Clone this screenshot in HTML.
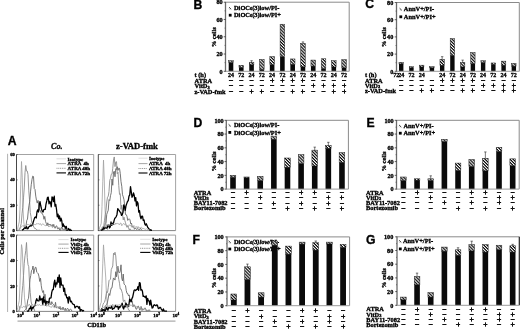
<!DOCTYPE html><html><head><meta charset="utf-8"><style>html,body{margin:0;padding:0;background:#fff;}svg{display:block;filter:grayscale(1) blur(0.3px);} text{stroke:#000;stroke-width:0.32px;paint-order:stroke;}</style></head><body>
<svg width="520" height="329" viewBox="0 0 520 329">
<defs><pattern id="hatch" width="2.2" height="2.2" patternUnits="userSpaceOnUse" patternTransform="rotate(45)"><rect x="0" y="0" width="2.2" height="2.2" fill="#fff"/><rect x="0" y="0" width="2.2" height="1.15" fill="#000"/></pattern><pattern id="hatch2" width="1.6" height="1.6" patternUnits="userSpaceOnUse" patternTransform="rotate(45)"><rect x="0" y="0" width="1.6" height="1.6" fill="#fff"/><rect x="0" y="0" width="1.6" height="0.8" fill="#000"/></pattern></defs>
<rect width="520" height="329" fill="#fff"/>
<text x="193.60" y="9.40" font-size="12.2" text-anchor="start" font-weight="bold" font-style="normal" font-family='"Liberation Sans", sans-serif' fill="#000" >B</text>
<line x1="225.50" y1="2.20" x2="349.20" y2="2.20" stroke="#8a8a8a" stroke-width="1.0" />
<line x1="349.20" y1="2.20" x2="349.20" y2="71.30" stroke="#8a8a8a" stroke-width="1.0" />
<line x1="229.00" y1="7.20" x2="231.20" y2="9.30" stroke="#333" stroke-width="1.0" />
<line x1="228.90" y1="8.70" x2="229.90" y2="9.70" stroke="#999" stroke-width="0.6" />
<text x="234.00" y="10.20" font-size="6.4" text-anchor="start" font-weight="bold" font-style="normal" font-family='"Liberation Serif", serif' fill="#000" >DiOC<tspan font-size="4.3">6</tspan>(3)low/PI-</text>
<rect x="228.80" y="13.80" width="2.80" height="2.80" fill="#000" />
<text x="234.00" y="17.30" font-size="6.4" text-anchor="start" font-weight="bold" font-style="normal" font-family='"Liberation Serif", serif' fill="#000" >DiOC<tspan font-size="4.3">6</tspan>(3)low/PI+</text>
<rect x="228.70" y="60.68" width="4.60" height="1.99" fill="url(#hatch)" stroke="#222" stroke-width="0.5"/>
<rect x="228.70" y="62.66" width="4.60" height="8.64" fill="#0a0a0a" />
<rect x="238.98" y="65.25" width="4.60" height="2.16" fill="url(#hatch)" stroke="#222" stroke-width="0.5"/>
<rect x="238.98" y="67.41" width="4.60" height="3.89" fill="#0a0a0a" />
<rect x="249.26" y="62.23" width="4.60" height="2.59" fill="url(#hatch)" stroke="#222" stroke-width="0.5"/>
<rect x="249.26" y="64.82" width="4.60" height="6.48" fill="#0a0a0a" />
<line x1="251.56" y1="62.23" x2="251.56" y2="60.68" stroke="#222" stroke-width="0.6" />
<line x1="250.36" y1="60.68" x2="252.76" y2="60.68" stroke="#222" stroke-width="0.6" />
<rect x="259.54" y="59.47" width="4.60" height="10.11" fill="url(#hatch)" stroke="#222" stroke-width="0.5"/>
<rect x="259.54" y="69.57" width="4.60" height="1.73" fill="#0a0a0a" />
<rect x="269.82" y="56.62" width="4.60" height="8.03" fill="url(#hatch)" stroke="#222" stroke-width="0.5"/>
<rect x="269.82" y="64.65" width="4.60" height="6.65" fill="#0a0a0a" />
<rect x="280.10" y="24.23" width="4.60" height="32.39" fill="url(#hatch)" stroke="#222" stroke-width="0.5"/>
<rect x="280.10" y="56.62" width="4.60" height="14.68" fill="#0a0a0a" />
<rect x="290.38" y="58.95" width="4.60" height="5.44" fill="url(#hatch)" stroke="#222" stroke-width="0.5"/>
<rect x="290.38" y="64.39" width="4.60" height="6.91" fill="#0a0a0a" />
<rect x="300.66" y="43.49" width="4.60" height="23.32" fill="url(#hatch)" stroke="#222" stroke-width="0.5"/>
<rect x="300.66" y="66.81" width="4.60" height="4.49" fill="#0a0a0a" />
<line x1="302.96" y1="43.49" x2="302.96" y2="41.93" stroke="#222" stroke-width="0.6" />
<line x1="301.76" y1="41.93" x2="304.16" y2="41.93" stroke="#222" stroke-width="0.6" />
<rect x="310.94" y="60.07" width="4.60" height="6.05" fill="url(#hatch)" stroke="#222" stroke-width="0.5"/>
<rect x="310.94" y="66.12" width="4.60" height="5.18" fill="#0a0a0a" />
<rect x="321.22" y="58.78" width="4.60" height="9.93" fill="url(#hatch)" stroke="#222" stroke-width="0.5"/>
<rect x="321.22" y="68.71" width="4.60" height="2.59" fill="#0a0a0a" />
<rect x="331.50" y="60.68" width="4.60" height="6.31" fill="url(#hatch)" stroke="#222" stroke-width="0.5"/>
<rect x="331.50" y="66.98" width="4.60" height="4.32" fill="#0a0a0a" />
<rect x="341.78" y="59.64" width="4.60" height="8.21" fill="url(#hatch)" stroke="#222" stroke-width="0.5"/>
<rect x="341.78" y="67.84" width="4.60" height="3.45" fill="#0a0a0a" />
<line x1="225.50" y1="1.90" x2="225.50" y2="71.80" stroke="#6a6a6a" stroke-width="1.3" />
<line x1="225.50" y1="71.30" x2="349.20" y2="71.30" stroke="#9a9a9a" stroke-width="1.0" />
<line x1="223.70" y1="71.30" x2="225.50" y2="71.30" stroke="#222" stroke-width="0.7" />
<text x="222.60" y="73.50" font-size="6.2" text-anchor="end" font-weight="bold" font-style="normal" font-family='"Liberation Serif", serif' fill="#000" >0</text>
<line x1="224.50" y1="62.66" x2="225.50" y2="62.66" stroke="#444" stroke-width="0.6" />
<line x1="223.70" y1="54.02" x2="225.50" y2="54.02" stroke="#222" stroke-width="0.7" />
<text x="222.60" y="56.23" font-size="6.2" text-anchor="end" font-weight="bold" font-style="normal" font-family='"Liberation Serif", serif' fill="#000" >20</text>
<line x1="224.50" y1="45.39" x2="225.50" y2="45.39" stroke="#444" stroke-width="0.6" />
<line x1="223.70" y1="36.75" x2="225.50" y2="36.75" stroke="#222" stroke-width="0.7" />
<text x="222.60" y="38.95" font-size="6.2" text-anchor="end" font-weight="bold" font-style="normal" font-family='"Liberation Serif", serif' fill="#000" >40</text>
<line x1="224.50" y1="28.11" x2="225.50" y2="28.11" stroke="#444" stroke-width="0.6" />
<line x1="223.70" y1="19.48" x2="225.50" y2="19.48" stroke="#222" stroke-width="0.7" />
<text x="222.60" y="21.68" font-size="6.2" text-anchor="end" font-weight="bold" font-style="normal" font-family='"Liberation Serif", serif' fill="#000" >60</text>
<line x1="224.50" y1="10.84" x2="225.50" y2="10.84" stroke="#444" stroke-width="0.6" />
<line x1="223.70" y1="2.20" x2="225.50" y2="2.20" stroke="#222" stroke-width="0.7" />
<text x="222.60" y="4.40" font-size="6.2" text-anchor="end" font-weight="bold" font-style="normal" font-family='"Liberation Serif", serif' fill="#000" >80</text>
<text x="0" y="0" font-size="6.5" text-anchor="middle" font-weight="bold" font-family='"Liberation Serif", serif' transform="translate(215.50,37.30) rotate(-90)">% cells</text>
<text x="194.50" y="76.50" font-size="6.4" text-anchor="start" font-weight="bold" font-style="normal" font-family='"Liberation Serif", serif' fill="#000" >t (h)</text>
<text x="231.00" y="76.50" font-size="6.0" text-anchor="middle" font-weight="bold" font-style="normal" font-family='"Liberation Serif", serif' fill="#000" >24</text>
<text x="241.28" y="76.50" font-size="6.0" text-anchor="middle" font-weight="bold" font-style="normal" font-family='"Liberation Serif", serif' fill="#000" >72</text>
<text x="251.56" y="76.50" font-size="6.0" text-anchor="middle" font-weight="bold" font-style="normal" font-family='"Liberation Serif", serif' fill="#000" >24</text>
<text x="261.84" y="76.50" font-size="6.0" text-anchor="middle" font-weight="bold" font-style="normal" font-family='"Liberation Serif", serif' fill="#000" >72</text>
<text x="272.12" y="76.50" font-size="6.0" text-anchor="middle" font-weight="bold" font-style="normal" font-family='"Liberation Serif", serif' fill="#000" >24</text>
<text x="282.40" y="76.50" font-size="6.0" text-anchor="middle" font-weight="bold" font-style="normal" font-family='"Liberation Serif", serif' fill="#000" >72</text>
<text x="292.68" y="76.50" font-size="6.0" text-anchor="middle" font-weight="bold" font-style="normal" font-family='"Liberation Serif", serif' fill="#000" >24</text>
<text x="302.96" y="76.50" font-size="6.0" text-anchor="middle" font-weight="bold" font-style="normal" font-family='"Liberation Serif", serif' fill="#000" >72</text>
<text x="313.24" y="76.50" font-size="6.0" text-anchor="middle" font-weight="bold" font-style="normal" font-family='"Liberation Serif", serif' fill="#000" >24</text>
<text x="323.52" y="76.50" font-size="6.0" text-anchor="middle" font-weight="bold" font-style="normal" font-family='"Liberation Serif", serif' fill="#000" >72</text>
<text x="333.80" y="76.50" font-size="6.0" text-anchor="middle" font-weight="bold" font-style="normal" font-family='"Liberation Serif", serif' fill="#000" >24</text>
<text x="344.08" y="76.50" font-size="6.0" text-anchor="middle" font-weight="bold" font-style="normal" font-family='"Liberation Serif", serif' fill="#000" >72</text>
<text x="194.50" y="83.00" font-size="6.4" text-anchor="start" font-weight="bold" font-style="normal" font-family='"Liberation Serif", serif' fill="#000" >ATRA</text>
<line x1="228.90" y1="80.50" x2="233.10" y2="80.50" stroke="#111" stroke-width="1.0" />
<line x1="239.18" y1="80.50" x2="243.38" y2="80.50" stroke="#111" stroke-width="1.0" />
<line x1="249.46" y1="80.50" x2="253.66" y2="80.50" stroke="#111" stroke-width="1.0" />
<line x1="259.74" y1="80.50" x2="263.94" y2="80.50" stroke="#111" stroke-width="1.0" />
<line x1="270.02" y1="80.50" x2="274.22" y2="80.50" stroke="#111" stroke-width="1.0" />
<line x1="272.50" y1="78.30" x2="272.50" y2="82.70" stroke="#111" stroke-width="1.0" />
<line x1="280.30" y1="80.50" x2="284.50" y2="80.50" stroke="#111" stroke-width="1.0" />
<line x1="282.50" y1="78.30" x2="282.50" y2="82.70" stroke="#111" stroke-width="1.0" />
<line x1="290.58" y1="80.50" x2="294.78" y2="80.50" stroke="#111" stroke-width="1.0" />
<line x1="292.50" y1="78.30" x2="292.50" y2="82.70" stroke="#111" stroke-width="1.0" />
<line x1="300.86" y1="80.50" x2="305.06" y2="80.50" stroke="#111" stroke-width="1.0" />
<line x1="302.50" y1="78.30" x2="302.50" y2="82.70" stroke="#111" stroke-width="1.0" />
<line x1="311.14" y1="80.50" x2="315.34" y2="80.50" stroke="#111" stroke-width="1.0" />
<line x1="321.42" y1="80.50" x2="325.62" y2="80.50" stroke="#111" stroke-width="1.0" />
<line x1="331.70" y1="80.50" x2="335.90" y2="80.50" stroke="#111" stroke-width="1.0" />
<line x1="341.98" y1="80.50" x2="346.18" y2="80.50" stroke="#111" stroke-width="1.0" />
<text x="194.50" y="88.10" font-size="6.4" text-anchor="start" font-weight="bold" font-style="normal" font-family='"Liberation Serif", serif' fill="#000" >VitD<tspan font-size="4.4" dy="0.5">3</tspan></text>
<line x1="228.90" y1="85.50" x2="233.10" y2="85.50" stroke="#111" stroke-width="1.0" />
<line x1="239.18" y1="85.50" x2="243.38" y2="85.50" stroke="#111" stroke-width="1.0" />
<line x1="249.46" y1="85.50" x2="253.66" y2="85.50" stroke="#111" stroke-width="1.0" />
<line x1="259.74" y1="85.50" x2="263.94" y2="85.50" stroke="#111" stroke-width="1.0" />
<line x1="270.02" y1="85.50" x2="274.22" y2="85.50" stroke="#111" stroke-width="1.0" />
<line x1="280.30" y1="85.50" x2="284.50" y2="85.50" stroke="#111" stroke-width="1.0" />
<line x1="290.58" y1="85.50" x2="294.78" y2="85.50" stroke="#111" stroke-width="1.0" />
<line x1="300.86" y1="85.50" x2="305.06" y2="85.50" stroke="#111" stroke-width="1.0" />
<line x1="311.14" y1="85.50" x2="315.34" y2="85.50" stroke="#111" stroke-width="1.0" />
<line x1="313.50" y1="83.30" x2="313.50" y2="87.70" stroke="#111" stroke-width="1.0" />
<line x1="321.42" y1="85.50" x2="325.62" y2="85.50" stroke="#111" stroke-width="1.0" />
<line x1="323.50" y1="83.30" x2="323.50" y2="87.70" stroke="#111" stroke-width="1.0" />
<line x1="331.70" y1="85.50" x2="335.90" y2="85.50" stroke="#111" stroke-width="1.0" />
<line x1="333.50" y1="83.30" x2="333.50" y2="87.70" stroke="#111" stroke-width="1.0" />
<line x1="341.98" y1="85.50" x2="346.18" y2="85.50" stroke="#111" stroke-width="1.0" />
<line x1="344.50" y1="83.30" x2="344.50" y2="87.70" stroke="#111" stroke-width="1.0" />
<text x="194.50" y="93.60" font-size="6.4" text-anchor="start" font-weight="bold" font-style="normal" font-family='"Liberation Serif", serif' fill="#000" >z-VAD-fmk</text>
<line x1="228.90" y1="91.50" x2="233.10" y2="91.50" stroke="#111" stroke-width="1.0" />
<line x1="239.18" y1="91.50" x2="243.38" y2="91.50" stroke="#111" stroke-width="1.0" />
<line x1="249.46" y1="91.50" x2="253.66" y2="91.50" stroke="#111" stroke-width="1.0" />
<line x1="251.50" y1="89.30" x2="251.50" y2="93.70" stroke="#111" stroke-width="1.0" />
<line x1="259.74" y1="91.50" x2="263.94" y2="91.50" stroke="#111" stroke-width="1.0" />
<line x1="261.50" y1="89.30" x2="261.50" y2="93.70" stroke="#111" stroke-width="1.0" />
<line x1="270.02" y1="91.50" x2="274.22" y2="91.50" stroke="#111" stroke-width="1.0" />
<line x1="280.30" y1="91.50" x2="284.50" y2="91.50" stroke="#111" stroke-width="1.0" />
<line x1="290.58" y1="91.50" x2="294.78" y2="91.50" stroke="#111" stroke-width="1.0" />
<line x1="292.50" y1="89.30" x2="292.50" y2="93.70" stroke="#111" stroke-width="1.0" />
<line x1="300.86" y1="91.50" x2="305.06" y2="91.50" stroke="#111" stroke-width="1.0" />
<line x1="302.50" y1="89.30" x2="302.50" y2="93.70" stroke="#111" stroke-width="1.0" />
<line x1="311.14" y1="91.50" x2="315.34" y2="91.50" stroke="#111" stroke-width="1.0" />
<line x1="321.42" y1="91.50" x2="325.62" y2="91.50" stroke="#111" stroke-width="1.0" />
<line x1="331.70" y1="91.50" x2="335.90" y2="91.50" stroke="#111" stroke-width="1.0" />
<line x1="333.50" y1="89.30" x2="333.50" y2="93.70" stroke="#111" stroke-width="1.0" />
<line x1="341.98" y1="91.50" x2="346.18" y2="91.50" stroke="#111" stroke-width="1.0" />
<line x1="344.50" y1="89.30" x2="344.50" y2="93.70" stroke="#111" stroke-width="1.0" />
<text x="365.20" y="8.30" font-size="12.2" text-anchor="start" font-weight="bold" font-style="normal" font-family='"Liberation Sans", sans-serif' fill="#000" >C</text>
<line x1="396.50" y1="2.50" x2="519.30" y2="2.50" stroke="#8a8a8a" stroke-width="1.0" />
<line x1="519.30" y1="2.50" x2="519.30" y2="71.30" stroke="#8a8a8a" stroke-width="1.0" />
<line x1="399.60" y1="8.20" x2="401.80" y2="10.30" stroke="#333" stroke-width="1.0" />
<line x1="399.50" y1="9.70" x2="400.50" y2="10.70" stroke="#999" stroke-width="0.6" />
<text x="403.80" y="11.20" font-size="6.4" text-anchor="start" font-weight="bold" font-style="normal" font-family='"Liberation Serif", serif' fill="#000" >AnnV+/PI-</text>
<rect x="399.40" y="15.40" width="2.80" height="2.80" fill="#000" />
<text x="403.80" y="18.90" font-size="6.4" text-anchor="start" font-weight="bold" font-style="normal" font-family='"Liberation Serif", serif' fill="#000" >AnnV+/PI+</text>
<rect x="399.00" y="62.27" width="4.40" height="1.72" fill="url(#hatch)" stroke="#222" stroke-width="0.5"/>
<rect x="399.00" y="63.99" width="4.40" height="7.31" fill="#0a0a0a" />
<rect x="409.24" y="66.74" width="4.40" height="1.12" fill="url(#hatch)" stroke="#222" stroke-width="0.5"/>
<rect x="409.24" y="67.86" width="4.40" height="3.44" fill="#0a0a0a" />
<rect x="419.48" y="65.19" width="4.40" height="1.81" fill="url(#hatch)" stroke="#222" stroke-width="0.5"/>
<rect x="419.48" y="67.00" width="4.40" height="4.30" fill="#0a0a0a" />
<rect x="429.72" y="66.74" width="4.40" height="1.12" fill="url(#hatch)" stroke="#222" stroke-width="0.5"/>
<rect x="429.72" y="67.86" width="4.40" height="3.44" fill="#0a0a0a" />
<rect x="439.96" y="59.26" width="4.40" height="6.02" fill="url(#hatch)" stroke="#222" stroke-width="0.5"/>
<rect x="439.96" y="65.28" width="4.40" height="6.02" fill="#0a0a0a" />
<line x1="442.16" y1="59.26" x2="442.16" y2="56.68" stroke="#222" stroke-width="0.6" />
<line x1="440.96" y1="56.68" x2="443.36" y2="56.68" stroke="#222" stroke-width="0.6" />
<rect x="450.20" y="38.62" width="4.40" height="16.77" fill="url(#hatch)" stroke="#222" stroke-width="0.5"/>
<rect x="450.20" y="55.39" width="4.40" height="15.91" fill="#0a0a0a" />
<rect x="460.44" y="62.27" width="4.40" height="4.73" fill="url(#hatch)" stroke="#222" stroke-width="0.5"/>
<rect x="460.44" y="67.00" width="4.40" height="4.30" fill="#0a0a0a" />
<line x1="462.64" y1="62.27" x2="462.64" y2="60.12" stroke="#222" stroke-width="0.6" />
<line x1="461.44" y1="60.12" x2="463.84" y2="60.12" stroke="#222" stroke-width="0.6" />
<rect x="470.68" y="52.55" width="4.40" height="11.01" fill="url(#hatch)" stroke="#222" stroke-width="0.5"/>
<rect x="470.68" y="63.56" width="4.40" height="7.74" fill="#0a0a0a" />
<rect x="480.92" y="60.72" width="4.40" height="1.98" fill="url(#hatch)" stroke="#222" stroke-width="0.5"/>
<rect x="480.92" y="62.70" width="4.40" height="8.60" fill="#0a0a0a" />
<rect x="491.16" y="62.96" width="4.40" height="1.46" fill="url(#hatch)" stroke="#222" stroke-width="0.5"/>
<rect x="491.16" y="64.42" width="4.40" height="6.88" fill="#0a0a0a" />
<rect x="501.40" y="61.15" width="4.40" height="4.13" fill="url(#hatch)" stroke="#222" stroke-width="0.5"/>
<rect x="501.40" y="65.28" width="4.40" height="6.02" fill="#0a0a0a" />
<rect x="511.64" y="63.39" width="4.40" height="2.75" fill="url(#hatch)" stroke="#222" stroke-width="0.5"/>
<rect x="511.64" y="66.14" width="4.40" height="5.16" fill="#0a0a0a" />
<line x1="396.50" y1="2.20" x2="396.50" y2="71.80" stroke="#6a6a6a" stroke-width="1.3" />
<line x1="396.50" y1="71.30" x2="519.30" y2="71.30" stroke="#9a9a9a" stroke-width="1.0" />
<line x1="394.70" y1="71.30" x2="396.50" y2="71.30" stroke="#222" stroke-width="0.7" />
<text x="393.30" y="73.50" font-size="6.2" text-anchor="end" font-weight="bold" font-style="normal" font-family='"Liberation Serif", serif' fill="#000" >0</text>
<line x1="395.50" y1="62.70" x2="396.50" y2="62.70" stroke="#444" stroke-width="0.6" />
<line x1="394.70" y1="54.10" x2="396.50" y2="54.10" stroke="#222" stroke-width="0.7" />
<text x="393.30" y="56.30" font-size="6.2" text-anchor="end" font-weight="bold" font-style="normal" font-family='"Liberation Serif", serif' fill="#000" >20</text>
<line x1="395.50" y1="45.50" x2="396.50" y2="45.50" stroke="#444" stroke-width="0.6" />
<line x1="394.70" y1="36.90" x2="396.50" y2="36.90" stroke="#222" stroke-width="0.7" />
<text x="393.30" y="39.10" font-size="6.2" text-anchor="end" font-weight="bold" font-style="normal" font-family='"Liberation Serif", serif' fill="#000" >40</text>
<line x1="395.50" y1="28.30" x2="396.50" y2="28.30" stroke="#444" stroke-width="0.6" />
<line x1="394.70" y1="19.70" x2="396.50" y2="19.70" stroke="#222" stroke-width="0.7" />
<text x="393.30" y="21.90" font-size="6.2" text-anchor="end" font-weight="bold" font-style="normal" font-family='"Liberation Serif", serif' fill="#000" >60</text>
<line x1="395.50" y1="11.10" x2="396.50" y2="11.10" stroke="#444" stroke-width="0.6" />
<line x1="394.70" y1="2.50" x2="396.50" y2="2.50" stroke="#222" stroke-width="0.7" />
<text x="393.30" y="4.70" font-size="6.2" text-anchor="end" font-weight="bold" font-style="normal" font-family='"Liberation Serif", serif' fill="#000" >80</text>
<text x="0" y="0" font-size="6.5" text-anchor="middle" font-weight="bold" font-family='"Liberation Serif", serif' transform="translate(386.00,37.30) rotate(-90)">% cells</text>
<text x="365.00" y="77.20" font-size="6.4" text-anchor="start" font-weight="bold" font-style="normal" font-family='"Liberation Serif", serif' fill="#000" >t (h)</text>
<text x="401.20" y="77.20" font-size="6.0" text-anchor="middle" font-weight="bold" font-style="normal" font-family='"Liberation Serif", serif' fill="#000" >24</text>
<text x="396.20" y="77.20" font-size="6.0" text-anchor="middle" font-weight="bold" font-style="normal" font-family='"Liberation Serif", serif' fill="#000" >72</text>
<text x="411.44" y="77.20" font-size="6.0" text-anchor="middle" font-weight="bold" font-style="normal" font-family='"Liberation Serif", serif' fill="#000" >72</text>
<text x="421.68" y="77.20" font-size="6.0" text-anchor="middle" font-weight="bold" font-style="normal" font-family='"Liberation Serif", serif' fill="#000" >24</text>
<text x="442.16" y="77.20" font-size="6.0" text-anchor="middle" font-weight="bold" font-style="normal" font-family='"Liberation Serif", serif' fill="#000" >24</text>
<text x="452.40" y="77.20" font-size="6.0" text-anchor="middle" font-weight="bold" font-style="normal" font-family='"Liberation Serif", serif' fill="#000" >72</text>
<text x="462.64" y="77.20" font-size="6.0" text-anchor="middle" font-weight="bold" font-style="normal" font-family='"Liberation Serif", serif' fill="#000" >24</text>
<text x="472.88" y="77.20" font-size="6.0" text-anchor="middle" font-weight="bold" font-style="normal" font-family='"Liberation Serif", serif' fill="#000" >72</text>
<text x="483.12" y="77.20" font-size="6.0" text-anchor="middle" font-weight="bold" font-style="normal" font-family='"Liberation Serif", serif' fill="#000" >24</text>
<text x="493.36" y="77.20" font-size="6.0" text-anchor="middle" font-weight="bold" font-style="normal" font-family='"Liberation Serif", serif' fill="#000" >72</text>
<text x="503.60" y="77.20" font-size="6.0" text-anchor="middle" font-weight="bold" font-style="normal" font-family='"Liberation Serif", serif' fill="#000" >24</text>
<text x="513.84" y="77.20" font-size="6.0" text-anchor="middle" font-weight="bold" font-style="normal" font-family='"Liberation Serif", serif' fill="#000" >72</text>
<text x="365.00" y="82.60" font-size="6.4" text-anchor="start" font-weight="bold" font-style="normal" font-family='"Liberation Serif", serif' fill="#000" >ATRA</text>
<line x1="399.10" y1="80.50" x2="403.30" y2="80.50" stroke="#111" stroke-width="1.0" />
<line x1="409.34" y1="80.50" x2="413.54" y2="80.50" stroke="#111" stroke-width="1.0" />
<line x1="419.58" y1="80.50" x2="423.78" y2="80.50" stroke="#111" stroke-width="1.0" />
<line x1="429.82" y1="80.50" x2="434.02" y2="80.50" stroke="#111" stroke-width="1.0" />
<line x1="440.06" y1="80.50" x2="444.26" y2="80.50" stroke="#111" stroke-width="1.0" />
<line x1="442.50" y1="78.30" x2="442.50" y2="82.70" stroke="#111" stroke-width="1.0" />
<line x1="450.30" y1="80.50" x2="454.50" y2="80.50" stroke="#111" stroke-width="1.0" />
<line x1="452.50" y1="78.30" x2="452.50" y2="82.70" stroke="#111" stroke-width="1.0" />
<line x1="460.54" y1="80.50" x2="464.74" y2="80.50" stroke="#111" stroke-width="1.0" />
<line x1="462.50" y1="78.30" x2="462.50" y2="82.70" stroke="#111" stroke-width="1.0" />
<line x1="470.78" y1="80.50" x2="474.98" y2="80.50" stroke="#111" stroke-width="1.0" />
<line x1="472.50" y1="78.30" x2="472.50" y2="82.70" stroke="#111" stroke-width="1.0" />
<line x1="481.02" y1="80.50" x2="485.22" y2="80.50" stroke="#111" stroke-width="1.0" />
<line x1="491.26" y1="80.50" x2="495.46" y2="80.50" stroke="#111" stroke-width="1.0" />
<line x1="501.50" y1="80.50" x2="505.70" y2="80.50" stroke="#111" stroke-width="1.0" />
<line x1="511.74" y1="80.50" x2="515.94" y2="80.50" stroke="#111" stroke-width="1.0" />
<text x="365.00" y="87.80" font-size="6.4" text-anchor="start" font-weight="bold" font-style="normal" font-family='"Liberation Serif", serif' fill="#000" >VitD<tspan font-size="4.4" dy="0.5">3</tspan></text>
<line x1="399.10" y1="85.50" x2="403.30" y2="85.50" stroke="#111" stroke-width="1.0" />
<line x1="409.34" y1="85.50" x2="413.54" y2="85.50" stroke="#111" stroke-width="1.0" />
<line x1="419.58" y1="85.50" x2="423.78" y2="85.50" stroke="#111" stroke-width="1.0" />
<line x1="429.82" y1="85.50" x2="434.02" y2="85.50" stroke="#111" stroke-width="1.0" />
<line x1="440.06" y1="85.50" x2="444.26" y2="85.50" stroke="#111" stroke-width="1.0" />
<line x1="450.30" y1="85.50" x2="454.50" y2="85.50" stroke="#111" stroke-width="1.0" />
<line x1="460.54" y1="85.50" x2="464.74" y2="85.50" stroke="#111" stroke-width="1.0" />
<line x1="470.78" y1="85.50" x2="474.98" y2="85.50" stroke="#111" stroke-width="1.0" />
<line x1="481.02" y1="85.50" x2="485.22" y2="85.50" stroke="#111" stroke-width="1.0" />
<line x1="483.50" y1="83.30" x2="483.50" y2="87.70" stroke="#111" stroke-width="1.0" />
<line x1="491.26" y1="85.50" x2="495.46" y2="85.50" stroke="#111" stroke-width="1.0" />
<line x1="493.50" y1="83.30" x2="493.50" y2="87.70" stroke="#111" stroke-width="1.0" />
<line x1="501.50" y1="85.50" x2="505.70" y2="85.50" stroke="#111" stroke-width="1.0" />
<line x1="503.50" y1="83.30" x2="503.50" y2="87.70" stroke="#111" stroke-width="1.0" />
<line x1="511.74" y1="85.50" x2="515.94" y2="85.50" stroke="#111" stroke-width="1.0" />
<line x1="513.50" y1="83.30" x2="513.50" y2="87.70" stroke="#111" stroke-width="1.0" />
<text x="365.00" y="92.80" font-size="6.4" text-anchor="start" font-weight="bold" font-style="normal" font-family='"Liberation Serif", serif' fill="#000" >z-VAD-fmk</text>
<line x1="399.10" y1="90.50" x2="403.30" y2="90.50" stroke="#111" stroke-width="1.0" />
<line x1="409.34" y1="90.50" x2="413.54" y2="90.50" stroke="#111" stroke-width="1.0" />
<line x1="419.58" y1="90.50" x2="423.78" y2="90.50" stroke="#111" stroke-width="1.0" />
<line x1="421.50" y1="88.30" x2="421.50" y2="92.70" stroke="#111" stroke-width="1.0" />
<line x1="429.82" y1="90.50" x2="434.02" y2="90.50" stroke="#111" stroke-width="1.0" />
<line x1="431.50" y1="88.30" x2="431.50" y2="92.70" stroke="#111" stroke-width="1.0" />
<line x1="440.06" y1="90.50" x2="444.26" y2="90.50" stroke="#111" stroke-width="1.0" />
<line x1="450.30" y1="90.50" x2="454.50" y2="90.50" stroke="#111" stroke-width="1.0" />
<line x1="460.54" y1="90.50" x2="464.74" y2="90.50" stroke="#111" stroke-width="1.0" />
<line x1="462.50" y1="88.30" x2="462.50" y2="92.70" stroke="#111" stroke-width="1.0" />
<line x1="470.78" y1="90.50" x2="474.98" y2="90.50" stroke="#111" stroke-width="1.0" />
<line x1="472.50" y1="88.30" x2="472.50" y2="92.70" stroke="#111" stroke-width="1.0" />
<line x1="481.02" y1="90.50" x2="485.22" y2="90.50" stroke="#111" stroke-width="1.0" />
<line x1="491.26" y1="90.50" x2="495.46" y2="90.50" stroke="#111" stroke-width="1.0" />
<line x1="501.50" y1="90.50" x2="505.70" y2="90.50" stroke="#111" stroke-width="1.0" />
<line x1="503.50" y1="88.30" x2="503.50" y2="92.70" stroke="#111" stroke-width="1.0" />
<line x1="511.74" y1="90.50" x2="515.94" y2="90.50" stroke="#111" stroke-width="1.0" />
<line x1="513.50" y1="88.30" x2="513.50" y2="92.70" stroke="#111" stroke-width="1.0" />
<text x="193.40" y="127.40" font-size="12.2" text-anchor="start" font-weight="bold" font-style="normal" font-family='"Liberation Sans", sans-serif' fill="#000" >D</text>
<line x1="226.30" y1="120.30" x2="348.40" y2="120.30" stroke="#8a8a8a" stroke-width="1.0" />
<line x1="348.40" y1="120.30" x2="348.40" y2="189.10" stroke="#8a8a8a" stroke-width="1.0" />
<line x1="228.60" y1="124.30" x2="230.80" y2="126.40" stroke="#333" stroke-width="1.0" />
<line x1="228.50" y1="125.80" x2="229.50" y2="126.80" stroke="#999" stroke-width="0.6" />
<text x="233.90" y="127.30" font-size="6.4" text-anchor="start" font-weight="bold" font-style="normal" font-family='"Liberation Serif", serif' fill="#000" >DiOC<tspan font-size="4.3">6</tspan>(3)low/PI-</text>
<rect x="228.40" y="131.00" width="2.80" height="2.80" fill="#000" />
<text x="233.90" y="134.50" font-size="6.4" text-anchor="start" font-weight="bold" font-style="normal" font-family='"Liberation Serif", serif' fill="#000" >DiOC<tspan font-size="4.3">6</tspan>(3)low/PI+</text>
<rect x="230.20" y="175.34" width="5.60" height="2.06" fill="url(#hatch)" stroke="#222" stroke-width="0.5"/>
<rect x="230.20" y="177.40" width="5.60" height="11.70" fill="#0a0a0a" />
<rect x="243.82" y="176.99" width="5.60" height="0.69" fill="url(#hatch)" stroke="#222" stroke-width="0.5"/>
<rect x="243.82" y="177.68" width="5.60" height="11.42" fill="#0a0a0a" />
<rect x="257.44" y="176.30" width="5.60" height="4.27" fill="url(#hatch)" stroke="#222" stroke-width="0.5"/>
<rect x="257.44" y="180.57" width="5.60" height="8.53" fill="#0a0a0a" />
<rect x="271.06" y="136.40" width="5.60" height="2.89" fill="url(#hatch)" stroke="#222" stroke-width="0.5"/>
<rect x="271.06" y="139.29" width="5.60" height="49.81" fill="#0a0a0a" />
<rect x="284.68" y="158.00" width="5.60" height="9.29" fill="url(#hatch)" stroke="#222" stroke-width="0.5"/>
<rect x="284.68" y="167.29" width="5.60" height="21.81" fill="#0a0a0a" />
<rect x="298.30" y="154.70" width="5.60" height="8.94" fill="url(#hatch)" stroke="#222" stroke-width="0.5"/>
<rect x="298.30" y="163.64" width="5.60" height="25.46" fill="#0a0a0a" />
<rect x="311.92" y="150.16" width="5.60" height="15.82" fill="url(#hatch)" stroke="#222" stroke-width="0.5"/>
<rect x="311.92" y="165.98" width="5.60" height="23.12" fill="#0a0a0a" />
<line x1="314.72" y1="150.16" x2="314.72" y2="147.13" stroke="#222" stroke-width="0.6" />
<line x1="313.52" y1="147.13" x2="315.92" y2="147.13" stroke="#222" stroke-width="0.6" />
<rect x="325.54" y="145.41" width="5.60" height="2.89" fill="url(#hatch)" stroke="#222" stroke-width="0.5"/>
<rect x="325.54" y="148.30" width="5.60" height="40.80" fill="#0a0a0a" />
<line x1="328.34" y1="145.41" x2="328.34" y2="142.32" stroke="#222" stroke-width="0.6" />
<line x1="327.14" y1="142.32" x2="329.54" y2="142.32" stroke="#222" stroke-width="0.6" />
<rect x="339.16" y="152.64" width="5.60" height="9.77" fill="url(#hatch)" stroke="#222" stroke-width="0.5"/>
<rect x="339.16" y="162.41" width="5.60" height="26.69" fill="#0a0a0a" />
<line x1="226.30" y1="120.00" x2="226.30" y2="189.60" stroke="#6a6a6a" stroke-width="1.3" />
<line x1="226.30" y1="189.10" x2="348.40" y2="189.10" stroke="#9a9a9a" stroke-width="1.0" />
<line x1="224.50" y1="189.10" x2="226.30" y2="189.10" stroke="#222" stroke-width="0.7" />
<text x="223.70" y="191.30" font-size="6.2" text-anchor="end" font-weight="bold" font-style="normal" font-family='"Liberation Serif", serif' fill="#000" >0</text>
<line x1="225.30" y1="182.22" x2="226.30" y2="182.22" stroke="#444" stroke-width="0.6" />
<line x1="224.50" y1="175.34" x2="226.30" y2="175.34" stroke="#222" stroke-width="0.7" />
<text x="223.70" y="177.54" font-size="6.2" text-anchor="end" font-weight="bold" font-style="normal" font-family='"Liberation Serif", serif' fill="#000" >20</text>
<line x1="225.30" y1="168.46" x2="226.30" y2="168.46" stroke="#444" stroke-width="0.6" />
<line x1="224.50" y1="161.58" x2="226.30" y2="161.58" stroke="#222" stroke-width="0.7" />
<text x="223.70" y="163.78" font-size="6.2" text-anchor="end" font-weight="bold" font-style="normal" font-family='"Liberation Serif", serif' fill="#000" >40</text>
<line x1="225.30" y1="154.70" x2="226.30" y2="154.70" stroke="#444" stroke-width="0.6" />
<line x1="224.50" y1="147.82" x2="226.30" y2="147.82" stroke="#222" stroke-width="0.7" />
<text x="223.70" y="150.02" font-size="6.2" text-anchor="end" font-weight="bold" font-style="normal" font-family='"Liberation Serif", serif' fill="#000" >60</text>
<line x1="225.30" y1="140.94" x2="226.30" y2="140.94" stroke="#444" stroke-width="0.6" />
<line x1="224.50" y1="134.06" x2="226.30" y2="134.06" stroke="#222" stroke-width="0.7" />
<text x="223.70" y="136.26" font-size="6.2" text-anchor="end" font-weight="bold" font-style="normal" font-family='"Liberation Serif", serif' fill="#000" >80</text>
<line x1="225.30" y1="127.18" x2="226.30" y2="127.18" stroke="#444" stroke-width="0.6" />
<line x1="224.50" y1="120.30" x2="226.30" y2="120.30" stroke="#222" stroke-width="0.7" />
<text x="223.70" y="122.50" font-size="6.2" text-anchor="end" font-weight="bold" font-style="normal" font-family='"Liberation Serif", serif' fill="#000" >100</text>
<text x="0" y="0" font-size="6.5" text-anchor="middle" font-weight="bold" font-family='"Liberation Serif", serif' transform="translate(215.60,161.50) rotate(-90)">% cells</text>
<text x="193.70" y="194.60" font-size="6.4" text-anchor="start" font-weight="bold" font-style="normal" font-family='"Liberation Serif", serif' fill="#000" >ATRA</text>
<line x1="230.90" y1="192.50" x2="235.10" y2="192.50" stroke="#111" stroke-width="1.0" />
<line x1="244.52" y1="192.50" x2="248.72" y2="192.50" stroke="#111" stroke-width="1.0" />
<line x1="246.50" y1="190.30" x2="246.50" y2="194.70" stroke="#111" stroke-width="1.0" />
<line x1="258.14" y1="192.50" x2="262.34" y2="192.50" stroke="#111" stroke-width="1.0" />
<line x1="271.76" y1="192.50" x2="275.96" y2="192.50" stroke="#111" stroke-width="1.0" />
<line x1="285.38" y1="192.50" x2="289.58" y2="192.50" stroke="#111" stroke-width="1.0" />
<line x1="299.00" y1="192.50" x2="303.20" y2="192.50" stroke="#111" stroke-width="1.0" />
<line x1="301.50" y1="190.30" x2="301.50" y2="194.70" stroke="#111" stroke-width="1.0" />
<line x1="312.62" y1="192.50" x2="316.82" y2="192.50" stroke="#111" stroke-width="1.0" />
<line x1="314.50" y1="190.30" x2="314.50" y2="194.70" stroke="#111" stroke-width="1.0" />
<line x1="326.24" y1="192.50" x2="330.44" y2="192.50" stroke="#111" stroke-width="1.0" />
<line x1="339.86" y1="192.50" x2="344.06" y2="192.50" stroke="#111" stroke-width="1.0" />
<text x="193.70" y="199.70" font-size="6.4" text-anchor="start" font-weight="bold" font-style="normal" font-family='"Liberation Serif", serif' fill="#000" >VitD<tspan font-size="4.4" dy="0.5">3</tspan></text>
<line x1="230.90" y1="197.50" x2="235.10" y2="197.50" stroke="#111" stroke-width="1.0" />
<line x1="244.52" y1="197.50" x2="248.72" y2="197.50" stroke="#111" stroke-width="1.0" />
<line x1="258.14" y1="197.50" x2="262.34" y2="197.50" stroke="#111" stroke-width="1.0" />
<line x1="260.50" y1="195.30" x2="260.50" y2="199.70" stroke="#111" stroke-width="1.0" />
<line x1="271.76" y1="197.50" x2="275.96" y2="197.50" stroke="#111" stroke-width="1.0" />
<line x1="285.38" y1="197.50" x2="289.58" y2="197.50" stroke="#111" stroke-width="1.0" />
<line x1="299.00" y1="197.50" x2="303.20" y2="197.50" stroke="#111" stroke-width="1.0" />
<line x1="312.62" y1="197.50" x2="316.82" y2="197.50" stroke="#111" stroke-width="1.0" />
<line x1="326.24" y1="197.50" x2="330.44" y2="197.50" stroke="#111" stroke-width="1.0" />
<line x1="328.50" y1="195.30" x2="328.50" y2="199.70" stroke="#111" stroke-width="1.0" />
<line x1="339.86" y1="197.50" x2="344.06" y2="197.50" stroke="#111" stroke-width="1.0" />
<line x1="341.50" y1="195.30" x2="341.50" y2="199.70" stroke="#111" stroke-width="1.0" />
<text x="193.70" y="205.20" font-size="6.4" text-anchor="start" font-weight="bold" font-style="normal" font-family='"Liberation Serif", serif' fill="#000" >BAY11-7082</text>
<line x1="230.90" y1="203.50" x2="235.10" y2="203.50" stroke="#111" stroke-width="1.0" />
<line x1="244.52" y1="203.50" x2="248.72" y2="203.50" stroke="#111" stroke-width="1.0" />
<line x1="258.14" y1="203.50" x2="262.34" y2="203.50" stroke="#111" stroke-width="1.0" />
<line x1="271.76" y1="203.50" x2="275.96" y2="203.50" stroke="#111" stroke-width="1.0" />
<line x1="273.50" y1="201.30" x2="273.50" y2="205.70" stroke="#111" stroke-width="1.0" />
<line x1="285.38" y1="203.50" x2="289.58" y2="203.50" stroke="#111" stroke-width="1.0" />
<line x1="299.00" y1="203.50" x2="303.20" y2="203.50" stroke="#111" stroke-width="1.0" />
<line x1="301.50" y1="201.30" x2="301.50" y2="205.70" stroke="#111" stroke-width="1.0" />
<line x1="312.62" y1="203.50" x2="316.82" y2="203.50" stroke="#111" stroke-width="1.0" />
<line x1="326.24" y1="203.50" x2="330.44" y2="203.50" stroke="#111" stroke-width="1.0" />
<line x1="328.50" y1="201.30" x2="328.50" y2="205.70" stroke="#111" stroke-width="1.0" />
<line x1="339.86" y1="203.50" x2="344.06" y2="203.50" stroke="#111" stroke-width="1.0" />
<text x="193.70" y="210.40" font-size="6.4" text-anchor="start" font-weight="bold" font-style="normal" font-family='"Liberation Serif", serif' fill="#000" >Bortezomib</text>
<line x1="230.90" y1="208.50" x2="235.10" y2="208.50" stroke="#111" stroke-width="1.0" />
<line x1="244.52" y1="208.50" x2="248.72" y2="208.50" stroke="#111" stroke-width="1.0" />
<line x1="258.14" y1="208.50" x2="262.34" y2="208.50" stroke="#111" stroke-width="1.0" />
<line x1="271.76" y1="208.50" x2="275.96" y2="208.50" stroke="#111" stroke-width="1.0" />
<line x1="285.38" y1="208.50" x2="289.58" y2="208.50" stroke="#111" stroke-width="1.0" />
<line x1="287.50" y1="206.30" x2="287.50" y2="210.70" stroke="#111" stroke-width="1.0" />
<line x1="299.00" y1="208.50" x2="303.20" y2="208.50" stroke="#111" stroke-width="1.0" />
<line x1="312.62" y1="208.50" x2="316.82" y2="208.50" stroke="#111" stroke-width="1.0" />
<line x1="314.50" y1="206.30" x2="314.50" y2="210.70" stroke="#111" stroke-width="1.0" />
<line x1="326.24" y1="208.50" x2="330.44" y2="208.50" stroke="#111" stroke-width="1.0" />
<line x1="339.86" y1="208.50" x2="344.06" y2="208.50" stroke="#111" stroke-width="1.0" />
<line x1="341.50" y1="206.30" x2="341.50" y2="210.70" stroke="#111" stroke-width="1.0" />
<text x="366.60" y="126.80" font-size="12.2" text-anchor="start" font-weight="bold" font-style="normal" font-family='"Liberation Sans", sans-serif' fill="#000" >E</text>
<line x1="396.50" y1="120.30" x2="519.20" y2="120.30" stroke="#8a8a8a" stroke-width="1.0" />
<line x1="519.20" y1="120.30" x2="519.20" y2="189.10" stroke="#8a8a8a" stroke-width="1.0" />
<line x1="399.10" y1="125.00" x2="401.30" y2="127.10" stroke="#333" stroke-width="1.0" />
<line x1="399.00" y1="126.50" x2="400.00" y2="127.50" stroke="#999" stroke-width="0.6" />
<text x="403.40" y="128.00" font-size="6.4" text-anchor="start" font-weight="bold" font-style="normal" font-family='"Liberation Serif", serif' fill="#000" >AnnV+/PI-</text>
<rect x="398.90" y="131.80" width="2.80" height="2.80" fill="#000" />
<text x="403.40" y="135.30" font-size="6.4" text-anchor="start" font-weight="bold" font-style="normal" font-family='"Liberation Serif", serif' fill="#000" >AnnV+/PI+</text>
<rect x="400.60" y="176.99" width="5.60" height="3.58" fill="url(#hatch)" stroke="#222" stroke-width="0.5"/>
<rect x="400.60" y="180.57" width="5.60" height="8.53" fill="#0a0a0a" />
<rect x="414.26" y="178.78" width="5.60" height="1.38" fill="url(#hatch)" stroke="#222" stroke-width="0.5"/>
<rect x="414.26" y="180.16" width="5.60" height="8.94" fill="#0a0a0a" />
<rect x="427.92" y="178.78" width="5.60" height="1.79" fill="url(#hatch)" stroke="#222" stroke-width="0.5"/>
<rect x="427.92" y="180.57" width="5.60" height="8.53" fill="#0a0a0a" />
<line x1="430.72" y1="178.78" x2="430.72" y2="175.82" stroke="#222" stroke-width="0.6" />
<line x1="429.52" y1="175.82" x2="431.92" y2="175.82" stroke="#222" stroke-width="0.6" />
<rect x="441.58" y="139.29" width="5.60" height="2.34" fill="url(#hatch)" stroke="#222" stroke-width="0.5"/>
<rect x="441.58" y="141.63" width="5.60" height="47.47" fill="#0a0a0a" />
<rect x="455.24" y="163.09" width="5.60" height="7.43" fill="url(#hatch)" stroke="#222" stroke-width="0.5"/>
<rect x="455.24" y="170.52" width="5.60" height="18.58" fill="#0a0a0a" />
<rect x="468.90" y="159.52" width="5.60" height="7.02" fill="url(#hatch)" stroke="#222" stroke-width="0.5"/>
<rect x="468.90" y="166.53" width="5.60" height="22.57" fill="#0a0a0a" />
<rect x="482.56" y="158.28" width="5.60" height="12.59" fill="url(#hatch)" stroke="#222" stroke-width="0.5"/>
<rect x="482.56" y="170.87" width="5.60" height="18.23" fill="#0a0a0a" />
<line x1="485.36" y1="158.28" x2="485.36" y2="151.95" stroke="#222" stroke-width="0.6" />
<line x1="484.16" y1="151.95" x2="486.56" y2="151.95" stroke="#222" stroke-width="0.6" />
<rect x="496.22" y="147.27" width="5.60" height="4.20" fill="url(#hatch)" stroke="#222" stroke-width="0.5"/>
<rect x="496.22" y="151.47" width="5.60" height="37.63" fill="#0a0a0a" />
<rect x="509.88" y="158.83" width="5.60" height="6.88" fill="url(#hatch)" stroke="#222" stroke-width="0.5"/>
<rect x="509.88" y="165.71" width="5.60" height="23.39" fill="#0a0a0a" />
<line x1="396.50" y1="120.00" x2="396.50" y2="189.60" stroke="#6a6a6a" stroke-width="1.3" />
<line x1="396.50" y1="189.10" x2="519.20" y2="189.10" stroke="#9a9a9a" stroke-width="1.0" />
<line x1="394.70" y1="189.10" x2="396.50" y2="189.10" stroke="#222" stroke-width="0.7" />
<text x="393.70" y="191.30" font-size="6.2" text-anchor="end" font-weight="bold" font-style="normal" font-family='"Liberation Serif", serif' fill="#000" >0</text>
<line x1="395.50" y1="182.22" x2="396.50" y2="182.22" stroke="#444" stroke-width="0.6" />
<line x1="394.70" y1="175.34" x2="396.50" y2="175.34" stroke="#222" stroke-width="0.7" />
<text x="393.70" y="177.54" font-size="6.2" text-anchor="end" font-weight="bold" font-style="normal" font-family='"Liberation Serif", serif' fill="#000" >20</text>
<line x1="395.50" y1="168.46" x2="396.50" y2="168.46" stroke="#444" stroke-width="0.6" />
<line x1="394.70" y1="161.58" x2="396.50" y2="161.58" stroke="#222" stroke-width="0.7" />
<text x="393.70" y="163.78" font-size="6.2" text-anchor="end" font-weight="bold" font-style="normal" font-family='"Liberation Serif", serif' fill="#000" >40</text>
<line x1="395.50" y1="154.70" x2="396.50" y2="154.70" stroke="#444" stroke-width="0.6" />
<line x1="394.70" y1="147.82" x2="396.50" y2="147.82" stroke="#222" stroke-width="0.7" />
<text x="393.70" y="150.02" font-size="6.2" text-anchor="end" font-weight="bold" font-style="normal" font-family='"Liberation Serif", serif' fill="#000" >60</text>
<line x1="395.50" y1="140.94" x2="396.50" y2="140.94" stroke="#444" stroke-width="0.6" />
<line x1="394.70" y1="134.06" x2="396.50" y2="134.06" stroke="#222" stroke-width="0.7" />
<text x="393.70" y="136.26" font-size="6.2" text-anchor="end" font-weight="bold" font-style="normal" font-family='"Liberation Serif", serif' fill="#000" >80</text>
<line x1="395.50" y1="127.18" x2="396.50" y2="127.18" stroke="#444" stroke-width="0.6" />
<line x1="394.70" y1="120.30" x2="396.50" y2="120.30" stroke="#222" stroke-width="0.7" />
<text x="393.70" y="122.50" font-size="6.2" text-anchor="end" font-weight="bold" font-style="normal" font-family='"Liberation Serif", serif' fill="#000" >100</text>
<text x="0" y="0" font-size="6.5" text-anchor="middle" font-weight="bold" font-family='"Liberation Serif", serif' transform="translate(385.80,161.50) rotate(-90)">% cells</text>
<text x="366.00" y="194.60" font-size="6.4" text-anchor="start" font-weight="bold" font-style="normal" font-family='"Liberation Serif", serif' fill="#000" >ATRA</text>
<line x1="401.30" y1="192.50" x2="405.50" y2="192.50" stroke="#111" stroke-width="1.0" />
<line x1="414.96" y1="192.50" x2="419.16" y2="192.50" stroke="#111" stroke-width="1.0" />
<line x1="417.50" y1="190.30" x2="417.50" y2="194.70" stroke="#111" stroke-width="1.0" />
<line x1="428.62" y1="192.50" x2="432.82" y2="192.50" stroke="#111" stroke-width="1.0" />
<line x1="442.28" y1="192.50" x2="446.48" y2="192.50" stroke="#111" stroke-width="1.0" />
<line x1="455.94" y1="192.50" x2="460.14" y2="192.50" stroke="#111" stroke-width="1.0" />
<line x1="469.60" y1="192.50" x2="473.80" y2="192.50" stroke="#111" stroke-width="1.0" />
<line x1="471.50" y1="190.30" x2="471.50" y2="194.70" stroke="#111" stroke-width="1.0" />
<line x1="483.26" y1="192.50" x2="487.46" y2="192.50" stroke="#111" stroke-width="1.0" />
<line x1="485.50" y1="190.30" x2="485.50" y2="194.70" stroke="#111" stroke-width="1.0" />
<line x1="496.92" y1="192.50" x2="501.12" y2="192.50" stroke="#111" stroke-width="1.0" />
<line x1="510.58" y1="192.50" x2="514.78" y2="192.50" stroke="#111" stroke-width="1.0" />
<text x="366.00" y="199.50" font-size="6.4" text-anchor="start" font-weight="bold" font-style="normal" font-family='"Liberation Serif", serif' fill="#000" >VitD<tspan font-size="4.4" dy="0.5">3</tspan></text>
<line x1="401.30" y1="197.50" x2="405.50" y2="197.50" stroke="#111" stroke-width="1.0" />
<line x1="414.96" y1="197.50" x2="419.16" y2="197.50" stroke="#111" stroke-width="1.0" />
<line x1="428.62" y1="197.50" x2="432.82" y2="197.50" stroke="#111" stroke-width="1.0" />
<line x1="430.50" y1="195.30" x2="430.50" y2="199.70" stroke="#111" stroke-width="1.0" />
<line x1="442.28" y1="197.50" x2="446.48" y2="197.50" stroke="#111" stroke-width="1.0" />
<line x1="455.94" y1="197.50" x2="460.14" y2="197.50" stroke="#111" stroke-width="1.0" />
<line x1="469.60" y1="197.50" x2="473.80" y2="197.50" stroke="#111" stroke-width="1.0" />
<line x1="483.26" y1="197.50" x2="487.46" y2="197.50" stroke="#111" stroke-width="1.0" />
<line x1="496.92" y1="197.50" x2="501.12" y2="197.50" stroke="#111" stroke-width="1.0" />
<line x1="499.50" y1="195.30" x2="499.50" y2="199.70" stroke="#111" stroke-width="1.0" />
<line x1="510.58" y1="197.50" x2="514.78" y2="197.50" stroke="#111" stroke-width="1.0" />
<line x1="512.50" y1="195.30" x2="512.50" y2="199.70" stroke="#111" stroke-width="1.0" />
<text x="366.00" y="205.00" font-size="6.4" text-anchor="start" font-weight="bold" font-style="normal" font-family='"Liberation Serif", serif' fill="#000" >BAY11-7082</text>
<line x1="401.30" y1="202.50" x2="405.50" y2="202.50" stroke="#111" stroke-width="1.0" />
<line x1="414.96" y1="202.50" x2="419.16" y2="202.50" stroke="#111" stroke-width="1.0" />
<line x1="428.62" y1="202.50" x2="432.82" y2="202.50" stroke="#111" stroke-width="1.0" />
<line x1="442.28" y1="202.50" x2="446.48" y2="202.50" stroke="#111" stroke-width="1.0" />
<line x1="444.50" y1="200.30" x2="444.50" y2="204.70" stroke="#111" stroke-width="1.0" />
<line x1="455.94" y1="202.50" x2="460.14" y2="202.50" stroke="#111" stroke-width="1.0" />
<line x1="469.60" y1="202.50" x2="473.80" y2="202.50" stroke="#111" stroke-width="1.0" />
<line x1="471.50" y1="200.30" x2="471.50" y2="204.70" stroke="#111" stroke-width="1.0" />
<line x1="483.26" y1="202.50" x2="487.46" y2="202.50" stroke="#111" stroke-width="1.0" />
<line x1="496.92" y1="202.50" x2="501.12" y2="202.50" stroke="#111" stroke-width="1.0" />
<line x1="499.50" y1="200.30" x2="499.50" y2="204.70" stroke="#111" stroke-width="1.0" />
<line x1="510.58" y1="202.50" x2="514.78" y2="202.50" stroke="#111" stroke-width="1.0" />
<text x="366.00" y="210.20" font-size="6.4" text-anchor="start" font-weight="bold" font-style="normal" font-family='"Liberation Serif", serif' fill="#000" >Bortezomib</text>
<line x1="401.30" y1="208.50" x2="405.50" y2="208.50" stroke="#111" stroke-width="1.0" />
<line x1="414.96" y1="208.50" x2="419.16" y2="208.50" stroke="#111" stroke-width="1.0" />
<line x1="428.62" y1="208.50" x2="432.82" y2="208.50" stroke="#111" stroke-width="1.0" />
<line x1="442.28" y1="208.50" x2="446.48" y2="208.50" stroke="#111" stroke-width="1.0" />
<line x1="455.94" y1="208.50" x2="460.14" y2="208.50" stroke="#111" stroke-width="1.0" />
<line x1="458.50" y1="206.30" x2="458.50" y2="210.70" stroke="#111" stroke-width="1.0" />
<line x1="469.60" y1="208.50" x2="473.80" y2="208.50" stroke="#111" stroke-width="1.0" />
<line x1="483.26" y1="208.50" x2="487.46" y2="208.50" stroke="#111" stroke-width="1.0" />
<line x1="485.50" y1="206.30" x2="485.50" y2="210.70" stroke="#111" stroke-width="1.0" />
<line x1="496.92" y1="208.50" x2="501.12" y2="208.50" stroke="#111" stroke-width="1.0" />
<line x1="510.58" y1="208.50" x2="514.78" y2="208.50" stroke="#111" stroke-width="1.0" />
<line x1="512.50" y1="206.30" x2="512.50" y2="210.70" stroke="#111" stroke-width="1.0" />
<text x="192.60" y="244.30" font-size="12.2" text-anchor="start" font-weight="bold" font-style="normal" font-family='"Liberation Sans", sans-serif' fill="#000" >F</text>
<line x1="227.00" y1="236.90" x2="349.60" y2="236.90" stroke="#8a8a8a" stroke-width="1.0" />
<line x1="349.60" y1="236.90" x2="349.60" y2="305.70" stroke="#8a8a8a" stroke-width="1.0" />
<line x1="228.60" y1="240.90" x2="230.80" y2="243.00" stroke="#333" stroke-width="1.0" />
<line x1="228.50" y1="242.40" x2="229.50" y2="243.40" stroke="#999" stroke-width="0.6" />
<text x="233.90" y="243.90" font-size="6.4" text-anchor="start" font-weight="bold" font-style="normal" font-family='"Liberation Serif", serif' fill="#000" >DiOC<tspan font-style="italic"><tspan font-size="4.3">6</tspan>(3)low/</tspan>PI-</text>
<rect x="228.40" y="247.60" width="2.80" height="2.80" fill="#000" />
<text x="233.90" y="251.10" font-size="6.4" text-anchor="start" font-weight="bold" font-style="normal" font-family='"Liberation Serif", serif' fill="#000" >DiOC<tspan font-style="italic"><tspan font-size="4.3">6</tspan>(3)low/</tspan>PI+</text>
<rect x="230.90" y="294.00" width="5.80" height="5.99" fill="url(#hatch)" stroke="#222" stroke-width="0.5"/>
<rect x="230.90" y="299.99" width="5.80" height="5.71" fill="#0a0a0a" />
<rect x="244.56" y="266.83" width="5.80" height="12.73" fill="url(#hatch)" stroke="#222" stroke-width="0.5"/>
<rect x="244.56" y="279.56" width="5.80" height="26.14" fill="#0a0a0a" />
<line x1="247.46" y1="266.83" x2="247.46" y2="264.08" stroke="#222" stroke-width="0.6" />
<line x1="246.26" y1="264.08" x2="248.66" y2="264.08" stroke="#222" stroke-width="0.6" />
<rect x="258.22" y="292.77" width="5.80" height="4.33" fill="url(#hatch)" stroke="#222" stroke-width="0.5"/>
<rect x="258.22" y="297.10" width="5.80" height="8.60" fill="#0a0a0a" />
<rect x="271.88" y="241.03" width="5.80" height="4.13" fill="url(#hatch)" stroke="#222" stroke-width="0.5"/>
<rect x="271.88" y="245.16" width="5.80" height="60.54" fill="#0a0a0a" />
<rect x="285.54" y="246.12" width="5.80" height="8.05" fill="url(#hatch)" stroke="#222" stroke-width="0.5"/>
<rect x="285.54" y="254.17" width="5.80" height="51.53" fill="#0a0a0a" />
<rect x="299.20" y="242.13" width="5.80" height="2.00" fill="url(#hatch)" stroke="#222" stroke-width="0.5"/>
<rect x="299.20" y="244.12" width="5.80" height="61.58" fill="#0a0a0a" />
<rect x="312.86" y="242.68" width="5.80" height="7.43" fill="url(#hatch)" stroke="#222" stroke-width="0.5"/>
<rect x="312.86" y="250.11" width="5.80" height="55.59" fill="#0a0a0a" />
<line x1="315.76" y1="242.68" x2="315.76" y2="241.03" stroke="#222" stroke-width="0.6" />
<line x1="314.56" y1="241.03" x2="316.96" y2="241.03" stroke="#222" stroke-width="0.6" />
<rect x="326.52" y="242.13" width="5.80" height="1.86" fill="url(#hatch)" stroke="#222" stroke-width="0.5"/>
<rect x="326.52" y="243.99" width="5.80" height="61.71" fill="#0a0a0a" />
<rect x="340.18" y="244.33" width="5.80" height="3.10" fill="url(#hatch)" stroke="#222" stroke-width="0.5"/>
<rect x="340.18" y="247.43" width="5.80" height="58.27" fill="#0a0a0a" />
<line x1="227.00" y1="236.60" x2="227.00" y2="306.20" stroke="#6a6a6a" stroke-width="1.3" />
<line x1="227.00" y1="305.70" x2="349.60" y2="305.70" stroke="#9a9a9a" stroke-width="1.0" />
<line x1="225.20" y1="305.70" x2="227.00" y2="305.70" stroke="#222" stroke-width="0.7" />
<text x="223.70" y="307.90" font-size="6.2" text-anchor="end" font-weight="bold" font-style="normal" font-family='"Liberation Serif", serif' fill="#000" >0</text>
<line x1="226.00" y1="298.82" x2="227.00" y2="298.82" stroke="#444" stroke-width="0.6" />
<line x1="225.20" y1="291.94" x2="227.00" y2="291.94" stroke="#222" stroke-width="0.7" />
<text x="223.70" y="294.14" font-size="6.2" text-anchor="end" font-weight="bold" font-style="normal" font-family='"Liberation Serif", serif' fill="#000" >20</text>
<line x1="226.00" y1="285.06" x2="227.00" y2="285.06" stroke="#444" stroke-width="0.6" />
<line x1="225.20" y1="278.18" x2="227.00" y2="278.18" stroke="#222" stroke-width="0.7" />
<text x="223.70" y="280.38" font-size="6.2" text-anchor="end" font-weight="bold" font-style="normal" font-family='"Liberation Serif", serif' fill="#000" >40</text>
<line x1="226.00" y1="271.30" x2="227.00" y2="271.30" stroke="#444" stroke-width="0.6" />
<line x1="225.20" y1="264.42" x2="227.00" y2="264.42" stroke="#222" stroke-width="0.7" />
<text x="223.70" y="266.62" font-size="6.2" text-anchor="end" font-weight="bold" font-style="normal" font-family='"Liberation Serif", serif' fill="#000" >60</text>
<line x1="226.00" y1="257.54" x2="227.00" y2="257.54" stroke="#444" stroke-width="0.6" />
<line x1="225.20" y1="250.66" x2="227.00" y2="250.66" stroke="#222" stroke-width="0.7" />
<text x="223.70" y="252.86" font-size="6.2" text-anchor="end" font-weight="bold" font-style="normal" font-family='"Liberation Serif", serif' fill="#000" >80</text>
<line x1="226.00" y1="243.78" x2="227.00" y2="243.78" stroke="#444" stroke-width="0.6" />
<line x1="225.20" y1="236.90" x2="227.00" y2="236.90" stroke="#222" stroke-width="0.7" />
<text x="223.70" y="239.10" font-size="6.2" text-anchor="end" font-weight="bold" font-style="normal" font-family='"Liberation Serif", serif' fill="#000" >100</text>
<text x="0" y="0" font-size="6.5" text-anchor="middle" font-weight="bold" font-family='"Liberation Serif", serif' transform="translate(215.60,278.20) rotate(-90)">% cells</text>
<text x="193.70" y="313.10" font-size="6.4" text-anchor="start" font-weight="bold" font-style="normal" font-family='"Liberation Serif", serif' fill="#000" >ATRA</text>
<line x1="231.70" y1="310.50" x2="235.90" y2="310.50" stroke="#111" stroke-width="1.0" />
<line x1="245.36" y1="310.50" x2="249.56" y2="310.50" stroke="#111" stroke-width="1.0" />
<line x1="247.50" y1="308.30" x2="247.50" y2="312.70" stroke="#111" stroke-width="1.0" />
<line x1="259.02" y1="310.50" x2="263.22" y2="310.50" stroke="#111" stroke-width="1.0" />
<line x1="272.68" y1="310.50" x2="276.88" y2="310.50" stroke="#111" stroke-width="1.0" />
<line x1="286.34" y1="310.50" x2="290.54" y2="310.50" stroke="#111" stroke-width="1.0" />
<line x1="300.00" y1="310.50" x2="304.20" y2="310.50" stroke="#111" stroke-width="1.0" />
<line x1="302.50" y1="308.30" x2="302.50" y2="312.70" stroke="#111" stroke-width="1.0" />
<line x1="313.66" y1="310.50" x2="317.86" y2="310.50" stroke="#111" stroke-width="1.0" />
<line x1="315.50" y1="308.30" x2="315.50" y2="312.70" stroke="#111" stroke-width="1.0" />
<line x1="327.32" y1="310.50" x2="331.52" y2="310.50" stroke="#111" stroke-width="1.0" />
<line x1="340.98" y1="310.50" x2="345.18" y2="310.50" stroke="#111" stroke-width="1.0" />
<text x="193.70" y="318.30" font-size="6.4" text-anchor="start" font-weight="bold" font-style="normal" font-family='"Liberation Serif", serif' fill="#000" >VitD<tspan font-size="4.4" dy="0.5">3</tspan></text>
<line x1="231.70" y1="316.50" x2="235.90" y2="316.50" stroke="#111" stroke-width="1.0" />
<line x1="245.36" y1="316.50" x2="249.56" y2="316.50" stroke="#111" stroke-width="1.0" />
<line x1="259.02" y1="316.50" x2="263.22" y2="316.50" stroke="#111" stroke-width="1.0" />
<line x1="261.50" y1="314.30" x2="261.50" y2="318.70" stroke="#111" stroke-width="1.0" />
<line x1="272.68" y1="316.50" x2="276.88" y2="316.50" stroke="#111" stroke-width="1.0" />
<line x1="286.34" y1="316.50" x2="290.54" y2="316.50" stroke="#111" stroke-width="1.0" />
<line x1="300.00" y1="316.50" x2="304.20" y2="316.50" stroke="#111" stroke-width="1.0" />
<line x1="313.66" y1="316.50" x2="317.86" y2="316.50" stroke="#111" stroke-width="1.0" />
<line x1="327.32" y1="316.50" x2="331.52" y2="316.50" stroke="#111" stroke-width="1.0" />
<line x1="329.50" y1="314.30" x2="329.50" y2="318.70" stroke="#111" stroke-width="1.0" />
<line x1="340.98" y1="316.50" x2="345.18" y2="316.50" stroke="#111" stroke-width="1.0" />
<line x1="343.50" y1="314.30" x2="343.50" y2="318.70" stroke="#111" stroke-width="1.0" />
<text x="193.70" y="323.70" font-size="6.4" text-anchor="start" font-weight="bold" font-style="normal" font-family='"Liberation Serif", serif' fill="#000" >BAY11-7082</text>
<line x1="231.70" y1="321.50" x2="235.90" y2="321.50" stroke="#111" stroke-width="1.0" />
<line x1="245.36" y1="321.50" x2="249.56" y2="321.50" stroke="#111" stroke-width="1.0" />
<line x1="259.02" y1="321.50" x2="263.22" y2="321.50" stroke="#111" stroke-width="1.0" />
<line x1="272.68" y1="321.50" x2="276.88" y2="321.50" stroke="#111" stroke-width="1.0" />
<line x1="274.50" y1="319.30" x2="274.50" y2="323.70" stroke="#111" stroke-width="1.0" />
<line x1="286.34" y1="321.50" x2="290.54" y2="321.50" stroke="#111" stroke-width="1.0" />
<line x1="300.00" y1="321.50" x2="304.20" y2="321.50" stroke="#111" stroke-width="1.0" />
<line x1="302.50" y1="319.30" x2="302.50" y2="323.70" stroke="#111" stroke-width="1.0" />
<line x1="313.66" y1="321.50" x2="317.86" y2="321.50" stroke="#111" stroke-width="1.0" />
<line x1="327.32" y1="321.50" x2="331.52" y2="321.50" stroke="#111" stroke-width="1.0" />
<line x1="329.50" y1="319.30" x2="329.50" y2="323.70" stroke="#111" stroke-width="1.0" />
<line x1="340.98" y1="321.50" x2="345.18" y2="321.50" stroke="#111" stroke-width="1.0" />
<text x="193.70" y="328.80" font-size="6.4" text-anchor="start" font-weight="bold" font-style="normal" font-family='"Liberation Serif", serif' fill="#000" >Bortezomib</text>
<line x1="231.70" y1="326.50" x2="235.90" y2="326.50" stroke="#111" stroke-width="1.0" />
<line x1="245.36" y1="326.50" x2="249.56" y2="326.50" stroke="#111" stroke-width="1.0" />
<line x1="259.02" y1="326.50" x2="263.22" y2="326.50" stroke="#111" stroke-width="1.0" />
<line x1="272.68" y1="326.50" x2="276.88" y2="326.50" stroke="#111" stroke-width="1.0" />
<line x1="286.34" y1="326.50" x2="290.54" y2="326.50" stroke="#111" stroke-width="1.0" />
<line x1="288.50" y1="324.30" x2="288.50" y2="328.70" stroke="#111" stroke-width="1.0" />
<line x1="300.00" y1="326.50" x2="304.20" y2="326.50" stroke="#111" stroke-width="1.0" />
<line x1="313.66" y1="326.50" x2="317.86" y2="326.50" stroke="#111" stroke-width="1.0" />
<line x1="315.50" y1="324.30" x2="315.50" y2="328.70" stroke="#111" stroke-width="1.0" />
<line x1="327.32" y1="326.50" x2="331.52" y2="326.50" stroke="#111" stroke-width="1.0" />
<line x1="340.98" y1="326.50" x2="345.18" y2="326.50" stroke="#111" stroke-width="1.0" />
<line x1="343.50" y1="324.30" x2="343.50" y2="328.70" stroke="#111" stroke-width="1.0" />
<text x="366.00" y="244.00" font-size="12.2" text-anchor="start" font-weight="bold" font-style="normal" font-family='"Liberation Sans", sans-serif' fill="#000" >G</text>
<line x1="397.00" y1="236.80" x2="519.30" y2="236.80" stroke="#8a8a8a" stroke-width="1.0" />
<line x1="519.30" y1="236.80" x2="519.30" y2="305.30" stroke="#222" stroke-width="1.2" />
<line x1="399.10" y1="240.30" x2="401.30" y2="242.40" stroke="#333" stroke-width="1.0" />
<line x1="399.00" y1="241.80" x2="400.00" y2="242.80" stroke="#999" stroke-width="0.6" />
<text x="402.90" y="243.30" font-size="6.4" text-anchor="start" font-weight="bold" font-style="normal" font-family='"Liberation Serif", serif' fill="#000" >AnnV+/PI-</text>
<rect x="398.90" y="247.50" width="2.80" height="2.80" fill="#000" />
<text x="402.90" y="251.00" font-size="6.4" text-anchor="start" font-weight="bold" font-style="normal" font-family='"Liberation Serif", serif' fill="#000" >AnnV+/PI+</text>
<rect x="400.60" y="297.08" width="5.60" height="2.74" fill="url(#hatch)" stroke="#222" stroke-width="0.5"/>
<rect x="400.60" y="299.82" width="5.60" height="5.48" fill="#0a0a0a" />
<rect x="414.26" y="276.53" width="5.60" height="8.22" fill="url(#hatch)" stroke="#222" stroke-width="0.5"/>
<rect x="414.26" y="284.75" width="5.60" height="20.55" fill="#0a0a0a" />
<line x1="417.06" y1="276.53" x2="417.06" y2="273.11" stroke="#222" stroke-width="0.6" />
<line x1="415.86" y1="273.11" x2="418.26" y2="273.11" stroke="#222" stroke-width="0.6" />
<rect x="427.92" y="292.63" width="5.60" height="4.45" fill="url(#hatch)" stroke="#222" stroke-width="0.5"/>
<rect x="427.92" y="297.08" width="5.60" height="8.22" fill="#0a0a0a" />
<rect x="441.58" y="247.08" width="5.60" height="4.11" fill="url(#hatch)" stroke="#222" stroke-width="0.5"/>
<rect x="441.58" y="251.19" width="5.60" height="54.12" fill="#0a0a0a" />
<rect x="455.24" y="249.81" width="5.60" height="5.48" fill="url(#hatch)" stroke="#222" stroke-width="0.5"/>
<rect x="455.24" y="255.30" width="5.60" height="50.00" fill="#0a0a0a" />
<line x1="458.04" y1="249.81" x2="458.04" y2="247.76" stroke="#222" stroke-width="0.6" />
<line x1="456.84" y1="247.76" x2="459.24" y2="247.76" stroke="#222" stroke-width="0.6" />
<rect x="468.90" y="244.61" width="5.60" height="6.37" fill="url(#hatch)" stroke="#222" stroke-width="0.5"/>
<rect x="468.90" y="250.98" width="5.60" height="54.32" fill="#0a0a0a" />
<line x1="471.70" y1="244.61" x2="471.70" y2="241.18" stroke="#222" stroke-width="0.6" />
<line x1="470.50" y1="241.18" x2="472.90" y2="241.18" stroke="#222" stroke-width="0.6" />
<rect x="482.56" y="244.61" width="5.60" height="7.47" fill="url(#hatch)" stroke="#222" stroke-width="0.5"/>
<rect x="482.56" y="252.08" width="5.60" height="53.22" fill="#0a0a0a" />
<rect x="496.22" y="245.23" width="5.60" height="4.59" fill="url(#hatch)" stroke="#222" stroke-width="0.5"/>
<rect x="496.22" y="249.81" width="5.60" height="55.49" fill="#0a0a0a" />
<rect x="509.88" y="245.77" width="5.60" height="6.30" fill="url(#hatch)" stroke="#222" stroke-width="0.5"/>
<rect x="509.88" y="252.08" width="5.60" height="53.22" fill="#0a0a0a" />
<line x1="512.68" y1="245.77" x2="512.68" y2="244.34" stroke="#222" stroke-width="0.6" />
<line x1="511.48" y1="244.34" x2="513.88" y2="244.34" stroke="#222" stroke-width="0.6" />
<line x1="397.00" y1="236.50" x2="397.00" y2="305.80" stroke="#6a6a6a" stroke-width="1.3" />
<line x1="397.00" y1="305.30" x2="519.30" y2="305.30" stroke="#9a9a9a" stroke-width="1.0" />
<line x1="395.20" y1="305.30" x2="397.00" y2="305.30" stroke="#222" stroke-width="0.7" />
<text x="393.30" y="307.50" font-size="6.2" text-anchor="end" font-weight="bold" font-style="normal" font-family='"Liberation Serif", serif' fill="#000" >0</text>
<line x1="396.00" y1="298.45" x2="397.00" y2="298.45" stroke="#444" stroke-width="0.6" />
<line x1="395.20" y1="291.60" x2="397.00" y2="291.60" stroke="#222" stroke-width="0.7" />
<text x="393.30" y="293.80" font-size="6.2" text-anchor="end" font-weight="bold" font-style="normal" font-family='"Liberation Serif", serif' fill="#000" >20</text>
<line x1="396.00" y1="284.75" x2="397.00" y2="284.75" stroke="#444" stroke-width="0.6" />
<line x1="395.20" y1="277.90" x2="397.00" y2="277.90" stroke="#222" stroke-width="0.7" />
<text x="393.30" y="280.10" font-size="6.2" text-anchor="end" font-weight="bold" font-style="normal" font-family='"Liberation Serif", serif' fill="#000" >40</text>
<line x1="396.00" y1="271.05" x2="397.00" y2="271.05" stroke="#444" stroke-width="0.6" />
<line x1="395.20" y1="264.20" x2="397.00" y2="264.20" stroke="#222" stroke-width="0.7" />
<text x="393.30" y="266.40" font-size="6.2" text-anchor="end" font-weight="bold" font-style="normal" font-family='"Liberation Serif", serif' fill="#000" >60</text>
<line x1="396.00" y1="257.35" x2="397.00" y2="257.35" stroke="#444" stroke-width="0.6" />
<line x1="395.20" y1="250.50" x2="397.00" y2="250.50" stroke="#222" stroke-width="0.7" />
<text x="393.30" y="252.70" font-size="6.2" text-anchor="end" font-weight="bold" font-style="normal" font-family='"Liberation Serif", serif' fill="#000" >80</text>
<line x1="396.00" y1="243.65" x2="397.00" y2="243.65" stroke="#444" stroke-width="0.6" />
<line x1="395.20" y1="236.80" x2="397.00" y2="236.80" stroke="#222" stroke-width="0.7" />
<text x="393.30" y="239.00" font-size="6.2" text-anchor="end" font-weight="bold" font-style="normal" font-family='"Liberation Serif", serif' fill="#000" >100</text>
<text x="0" y="0" font-size="6.5" text-anchor="middle" font-weight="bold" font-family='"Liberation Serif", serif' transform="translate(385.80,278.20) rotate(-90)">% cells</text>
<text x="366.30" y="311.40" font-size="6.4" text-anchor="start" font-weight="bold" font-style="normal" font-family='"Liberation Serif", serif' fill="#000" >ATRA</text>
<line x1="401.30" y1="309.50" x2="405.50" y2="309.50" stroke="#111" stroke-width="1.0" />
<line x1="414.96" y1="309.50" x2="419.16" y2="309.50" stroke="#111" stroke-width="1.0" />
<line x1="417.50" y1="307.30" x2="417.50" y2="311.70" stroke="#111" stroke-width="1.0" />
<line x1="428.62" y1="309.50" x2="432.82" y2="309.50" stroke="#111" stroke-width="1.0" />
<line x1="442.28" y1="309.50" x2="446.48" y2="309.50" stroke="#111" stroke-width="1.0" />
<line x1="455.94" y1="309.50" x2="460.14" y2="309.50" stroke="#111" stroke-width="1.0" />
<line x1="469.60" y1="309.50" x2="473.80" y2="309.50" stroke="#111" stroke-width="1.0" />
<line x1="471.50" y1="307.30" x2="471.50" y2="311.70" stroke="#111" stroke-width="1.0" />
<line x1="483.26" y1="309.50" x2="487.46" y2="309.50" stroke="#111" stroke-width="1.0" />
<line x1="485.50" y1="307.30" x2="485.50" y2="311.70" stroke="#111" stroke-width="1.0" />
<line x1="496.92" y1="309.50" x2="501.12" y2="309.50" stroke="#111" stroke-width="1.0" />
<line x1="510.58" y1="309.50" x2="514.78" y2="309.50" stroke="#111" stroke-width="1.0" />
<text x="366.30" y="316.60" font-size="6.4" text-anchor="start" font-weight="bold" font-style="normal" font-family='"Liberation Serif", serif' fill="#000" >VitD<tspan font-size="4.4" dy="0.5">3</tspan></text>
<line x1="401.30" y1="314.50" x2="405.50" y2="314.50" stroke="#111" stroke-width="1.0" />
<line x1="414.96" y1="314.50" x2="419.16" y2="314.50" stroke="#111" stroke-width="1.0" />
<line x1="428.62" y1="314.50" x2="432.82" y2="314.50" stroke="#111" stroke-width="1.0" />
<line x1="430.50" y1="312.30" x2="430.50" y2="316.70" stroke="#111" stroke-width="1.0" />
<line x1="442.28" y1="314.50" x2="446.48" y2="314.50" stroke="#111" stroke-width="1.0" />
<line x1="455.94" y1="314.50" x2="460.14" y2="314.50" stroke="#111" stroke-width="1.0" />
<line x1="469.60" y1="314.50" x2="473.80" y2="314.50" stroke="#111" stroke-width="1.0" />
<line x1="483.26" y1="314.50" x2="487.46" y2="314.50" stroke="#111" stroke-width="1.0" />
<line x1="496.92" y1="314.50" x2="501.12" y2="314.50" stroke="#111" stroke-width="1.0" />
<line x1="499.50" y1="312.30" x2="499.50" y2="316.70" stroke="#111" stroke-width="1.0" />
<line x1="510.58" y1="314.50" x2="514.78" y2="314.50" stroke="#111" stroke-width="1.0" />
<line x1="512.50" y1="312.30" x2="512.50" y2="316.70" stroke="#111" stroke-width="1.0" />
<text x="366.30" y="321.80" font-size="6.4" text-anchor="start" font-weight="bold" font-style="normal" font-family='"Liberation Serif", serif' fill="#000" >BAY11-7082</text>
<line x1="401.30" y1="319.50" x2="405.50" y2="319.50" stroke="#111" stroke-width="1.0" />
<line x1="414.96" y1="319.50" x2="419.16" y2="319.50" stroke="#111" stroke-width="1.0" />
<line x1="428.62" y1="319.50" x2="432.82" y2="319.50" stroke="#111" stroke-width="1.0" />
<line x1="442.28" y1="319.50" x2="446.48" y2="319.50" stroke="#111" stroke-width="1.0" />
<line x1="444.50" y1="317.30" x2="444.50" y2="321.70" stroke="#111" stroke-width="1.0" />
<line x1="455.94" y1="319.50" x2="460.14" y2="319.50" stroke="#111" stroke-width="1.0" />
<line x1="469.60" y1="319.50" x2="473.80" y2="319.50" stroke="#111" stroke-width="1.0" />
<line x1="471.50" y1="317.30" x2="471.50" y2="321.70" stroke="#111" stroke-width="1.0" />
<line x1="483.26" y1="319.50" x2="487.46" y2="319.50" stroke="#111" stroke-width="1.0" />
<line x1="496.92" y1="319.50" x2="501.12" y2="319.50" stroke="#111" stroke-width="1.0" />
<line x1="499.50" y1="317.30" x2="499.50" y2="321.70" stroke="#111" stroke-width="1.0" />
<line x1="510.58" y1="319.50" x2="514.78" y2="319.50" stroke="#111" stroke-width="1.0" />
<text x="366.30" y="327.00" font-size="6.4" text-anchor="start" font-weight="bold" font-style="normal" font-family='"Liberation Serif", serif' fill="#000" >Bortezomib</text>
<line x1="401.30" y1="324.50" x2="405.50" y2="324.50" stroke="#111" stroke-width="1.0" />
<line x1="414.96" y1="324.50" x2="419.16" y2="324.50" stroke="#111" stroke-width="1.0" />
<line x1="428.62" y1="324.50" x2="432.82" y2="324.50" stroke="#111" stroke-width="1.0" />
<line x1="442.28" y1="324.50" x2="446.48" y2="324.50" stroke="#111" stroke-width="1.0" />
<line x1="455.94" y1="324.50" x2="460.14" y2="324.50" stroke="#111" stroke-width="1.0" />
<line x1="458.50" y1="322.30" x2="458.50" y2="326.70" stroke="#111" stroke-width="1.0" />
<line x1="469.60" y1="324.50" x2="473.80" y2="324.50" stroke="#111" stroke-width="1.0" />
<line x1="483.26" y1="324.50" x2="487.46" y2="324.50" stroke="#111" stroke-width="1.0" />
<line x1="485.50" y1="322.30" x2="485.50" y2="326.70" stroke="#111" stroke-width="1.0" />
<line x1="496.92" y1="324.50" x2="501.12" y2="324.50" stroke="#111" stroke-width="1.0" />
<line x1="510.58" y1="324.50" x2="514.78" y2="324.50" stroke="#111" stroke-width="1.0" />
<line x1="512.50" y1="322.30" x2="512.50" y2="326.70" stroke="#111" stroke-width="1.0" />
<text x="7.80" y="145.40" font-size="12.2" text-anchor="start" font-weight="bold" font-style="normal" font-family='"Liberation Sans", sans-serif' fill="#000" >A</text>
<text x="51.10" y="148.80" font-size="8.0" text-anchor="start" font-weight="bold" font-style="italic" font-family='"Liberation Serif", serif' fill="#000" >Co.</text>
<text x="116.00" y="148.80" font-size="8.6" text-anchor="start" font-weight="bold" font-style="normal" font-family='"Liberation Serif", serif' fill="#000" >z-VAD-fmk</text>
<line x1="7.60" y1="153.80" x2="7.60" y2="312.00" stroke="#9a9a9a" stroke-width="0.8" />
<line x1="17.50" y1="321.10" x2="175.50" y2="321.10" stroke="#8a8a8a" stroke-width="0.9" />
<text x="87.30" y="327.40" font-size="5.6" text-anchor="start" font-weight="bold" font-style="normal" font-family='"Liberation Serif", serif' fill="#000" textLength="18.9" lengthAdjust="spacingAndGlyphs">CD11b</text>
<text x="0" y="0" font-size="6.3" text-anchor="middle" font-weight="bold" font-family='"Liberation Serif", serif' transform="translate(3.9,231.3) rotate(-90)">Cells per channel</text>
<line x1="16.50" y1="154.50" x2="93.70" y2="154.50" stroke="#999" stroke-width="0.9" />
<line x1="93.70" y1="154.50" x2="93.70" y2="230.60" stroke="#999" stroke-width="0.9" />
<line x1="16.50" y1="230.60" x2="93.70" y2="230.60" stroke="#777" stroke-width="0.9" />
<line x1="16.50" y1="154.50" x2="16.50" y2="231.00" stroke="#333" stroke-width="0.9" />
<text x="14.90" y="232.20" font-size="4.6" text-anchor="end" font-weight="bold" font-style="normal" font-family='"Liberation Serif", serif' fill="#000" >0</text>
<line x1="16.50" y1="230.60" x2="17.70" y2="230.60" stroke="#333" stroke-width="0.6" />
<text x="14.90" y="206.83" font-size="4.6" text-anchor="end" font-weight="bold" font-style="normal" font-family='"Liberation Serif", serif' fill="#000" >20</text>
<line x1="16.50" y1="205.23" x2="17.70" y2="205.23" stroke="#333" stroke-width="0.6" />
<text x="14.90" y="181.47" font-size="4.6" text-anchor="end" font-weight="bold" font-style="normal" font-family='"Liberation Serif", serif' fill="#000" >40</text>
<line x1="16.50" y1="179.87" x2="17.70" y2="179.87" stroke="#333" stroke-width="0.6" />
<text x="14.90" y="156.10" font-size="4.6" text-anchor="end" font-weight="bold" font-style="normal" font-family='"Liberation Serif", serif' fill="#000" >60</text>
<line x1="16.50" y1="154.50" x2="17.70" y2="154.50" stroke="#333" stroke-width="0.6" />
<line x1="98.30" y1="154.50" x2="175.60" y2="154.50" stroke="#999" stroke-width="0.9" />
<line x1="175.60" y1="154.50" x2="175.60" y2="230.60" stroke="#999" stroke-width="0.9" />
<line x1="98.30" y1="230.60" x2="175.60" y2="230.60" stroke="#777" stroke-width="0.9" />
<line x1="98.30" y1="154.50" x2="98.30" y2="231.00" stroke="#333" stroke-width="0.9" />
<line x1="98.30" y1="230.60" x2="99.50" y2="230.60" stroke="#333" stroke-width="0.6" />
<line x1="98.30" y1="205.23" x2="99.50" y2="205.23" stroke="#333" stroke-width="0.6" />
<line x1="98.30" y1="179.87" x2="99.50" y2="179.87" stroke="#333" stroke-width="0.6" />
<line x1="98.30" y1="154.50" x2="99.50" y2="154.50" stroke="#333" stroke-width="0.6" />
<line x1="16.50" y1="235.10" x2="93.70" y2="235.10" stroke="#999" stroke-width="0.9" />
<line x1="93.70" y1="235.10" x2="93.70" y2="311.40" stroke="#999" stroke-width="0.9" />
<line x1="16.50" y1="311.40" x2="93.70" y2="311.40" stroke="#777" stroke-width="0.9" />
<line x1="16.50" y1="235.10" x2="16.50" y2="311.80" stroke="#333" stroke-width="0.9" />
<text x="14.90" y="313.00" font-size="4.6" text-anchor="end" font-weight="bold" font-style="normal" font-family='"Liberation Serif", serif' fill="#000" >0</text>
<line x1="16.50" y1="311.40" x2="17.70" y2="311.40" stroke="#333" stroke-width="0.6" />
<text x="14.90" y="287.57" font-size="4.6" text-anchor="end" font-weight="bold" font-style="normal" font-family='"Liberation Serif", serif' fill="#000" >20</text>
<line x1="16.50" y1="285.97" x2="17.70" y2="285.97" stroke="#333" stroke-width="0.6" />
<text x="14.90" y="262.13" font-size="4.6" text-anchor="end" font-weight="bold" font-style="normal" font-family='"Liberation Serif", serif' fill="#000" >40</text>
<line x1="16.50" y1="260.53" x2="17.70" y2="260.53" stroke="#333" stroke-width="0.6" />
<text x="14.90" y="236.70" font-size="4.6" text-anchor="end" font-weight="bold" font-style="normal" font-family='"Liberation Serif", serif' fill="#000" >60</text>
<line x1="16.50" y1="235.10" x2="17.70" y2="235.10" stroke="#333" stroke-width="0.6" />
<text x="16.90" y="317.40" font-size="5.0" text-anchor="start" font-weight="bold" font-style="normal" font-family='"Liberation Serif", serif' fill="#000" >10<tspan font-size="3.4" dy="-2">0</tspan></text>
<text x="33.60" y="317.40" font-size="5.0" text-anchor="start" font-weight="bold" font-style="normal" font-family='"Liberation Serif", serif' fill="#000" >10<tspan font-size="3.4" dy="-2">1</tspan></text>
<text x="52.50" y="317.40" font-size="5.0" text-anchor="start" font-weight="bold" font-style="normal" font-family='"Liberation Serif", serif' fill="#000" >10<tspan font-size="3.4" dy="-2">2</tspan></text>
<text x="71.40" y="317.40" font-size="5.0" text-anchor="start" font-weight="bold" font-style="normal" font-family='"Liberation Serif", serif' fill="#000" >10<tspan font-size="3.4" dy="-2">3</tspan></text>
<text x="90.30" y="317.40" font-size="5.0" text-anchor="start" font-weight="bold" font-style="normal" font-family='"Liberation Serif", serif' fill="#000" >10<tspan font-size="3.4" dy="-2">4</tspan></text>
<line x1="98.30" y1="235.10" x2="175.60" y2="235.10" stroke="#999" stroke-width="0.9" />
<line x1="175.60" y1="235.10" x2="175.60" y2="311.40" stroke="#999" stroke-width="0.9" />
<line x1="98.30" y1="311.40" x2="175.60" y2="311.40" stroke="#777" stroke-width="0.9" />
<line x1="98.30" y1="235.10" x2="98.30" y2="311.80" stroke="#333" stroke-width="0.9" />
<line x1="98.30" y1="311.40" x2="99.50" y2="311.40" stroke="#333" stroke-width="0.6" />
<line x1="98.30" y1="285.97" x2="99.50" y2="285.97" stroke="#333" stroke-width="0.6" />
<line x1="98.30" y1="260.53" x2="99.50" y2="260.53" stroke="#333" stroke-width="0.6" />
<line x1="98.30" y1="235.10" x2="99.50" y2="235.10" stroke="#333" stroke-width="0.6" />
<text x="97.90" y="317.40" font-size="5.0" text-anchor="start" font-weight="bold" font-style="normal" font-family='"Liberation Serif", serif' fill="#000" >10<tspan font-size="3.4" dy="-2">0</tspan></text>
<text x="115.10" y="317.40" font-size="5.0" text-anchor="start" font-weight="bold" font-style="normal" font-family='"Liberation Serif", serif' fill="#000" >10<tspan font-size="3.4" dy="-2">1</tspan></text>
<text x="134.10" y="317.40" font-size="5.0" text-anchor="start" font-weight="bold" font-style="normal" font-family='"Liberation Serif", serif' fill="#000" >10<tspan font-size="3.4" dy="-2">2</tspan></text>
<text x="153.20" y="317.40" font-size="5.0" text-anchor="start" font-weight="bold" font-style="normal" font-family='"Liberation Serif", serif' fill="#000" >10<tspan font-size="3.4" dy="-2">3</tspan></text>
<text x="172.60" y="317.40" font-size="5.0" text-anchor="start" font-weight="bold" font-style="normal" font-family='"Liberation Serif", serif' fill="#000" >10<tspan font-size="3.4" dy="-2">4</tspan></text>
<line x1="56.50" y1="158.80" x2="66.00" y2="158.80" stroke="#c8c8c8" stroke-width="0.6" />
<text x="67.60" y="160.50" font-size="5.0" text-anchor="start" font-weight="bold" font-style="normal" font-family='"Liberation Serif", serif' fill="#000" >Isotype</text>
<line x1="56.50" y1="163.60" x2="66.00" y2="163.60" stroke="#9c9c9c" stroke-width="0.9" />
<text x="67.60" y="165.30" font-size="5.0" text-anchor="start" font-weight="bold" font-style="normal" font-family='"Liberation Serif", serif' fill="#000" >ATRA &#160;4h</text>
<line x1="56.50" y1="168.30" x2="66.00" y2="168.30" stroke="#777" stroke-width="0.8" stroke-dasharray="1,0.8"/>
<text x="67.60" y="170.00" font-size="5.0" text-anchor="start" font-weight="bold" font-style="normal" font-family='"Liberation Serif", serif' fill="#000" >ATRA 48h</text>
<line x1="56.50" y1="172.90" x2="66.00" y2="172.90" stroke="#000" stroke-width="1.1" />
<text x="67.60" y="174.60" font-size="5.0" text-anchor="start" font-weight="bold" font-style="normal" font-family='"Liberation Serif", serif' fill="#000" >ATRA 72h</text>
<line x1="138.50" y1="158.20" x2="147.50" y2="158.20" stroke="#c8c8c8" stroke-width="0.6" />
<text x="149.00" y="159.90" font-size="5.0" text-anchor="start" font-weight="bold" font-style="normal" font-family='"Liberation Serif", serif' fill="#000" >Isotype</text>
<line x1="138.50" y1="163.60" x2="147.50" y2="163.60" stroke="#9c9c9c" stroke-width="0.9" />
<text x="149.00" y="165.30" font-size="5.0" text-anchor="start" font-weight="bold" font-style="normal" font-family='"Liberation Serif", serif' fill="#000" >ATRA &#160;4h</text>
<line x1="138.50" y1="168.50" x2="147.50" y2="168.50" stroke="#777" stroke-width="0.8" stroke-dasharray="1,0.8"/>
<text x="149.00" y="170.20" font-size="5.0" text-anchor="start" font-weight="bold" font-style="normal" font-family='"Liberation Serif", serif' fill="#000" >ATRA 48h</text>
<line x1="138.50" y1="173.00" x2="147.50" y2="173.00" stroke="#000" stroke-width="1.1" />
<text x="149.00" y="174.70" font-size="5.0" text-anchor="start" font-weight="bold" font-style="normal" font-family='"Liberation Serif", serif' fill="#000" >ATRA 72h</text>
<line x1="58.40" y1="239.60" x2="68.60" y2="239.60" stroke="#c8c8c8" stroke-width="0.6" />
<text x="70.60" y="241.30" font-size="5.0" text-anchor="start" font-weight="bold" font-style="normal" font-family='"Liberation Serif", serif' fill="#000" >Isotype</text>
<line x1="58.40" y1="244.10" x2="68.60" y2="244.10" stroke="#9c9c9c" stroke-width="0.9" />
<text x="70.60" y="245.80" font-size="5.0" text-anchor="start" font-weight="bold" font-style="normal" font-family='"Liberation Serif", serif' fill="#000" >VitD<tspan font-size="3.2" dy="0.8">3</tspan><tspan dy="-0.8"> 4h</tspan></text>
<line x1="58.40" y1="248.30" x2="68.60" y2="248.30" stroke="#777" stroke-width="0.8" stroke-dasharray="1,0.8"/>
<text x="70.60" y="250.00" font-size="5.0" text-anchor="start" font-weight="bold" font-style="normal" font-family='"Liberation Serif", serif' fill="#000" >VitD<tspan font-size="3.2" dy="0.8">3</tspan><tspan dy="-0.8"> 48h</tspan></text>
<line x1="58.40" y1="252.40" x2="68.60" y2="252.40" stroke="#000" stroke-width="1.1" />
<text x="70.60" y="254.10" font-size="5.0" text-anchor="start" font-weight="bold" font-style="normal" font-family='"Liberation Serif", serif' fill="#000" >VitD<tspan font-size="3.2" dy="0.8">3</tspan><tspan dy="-0.8"> 72h</tspan></text>
<line x1="140.20" y1="239.30" x2="150.50" y2="239.30" stroke="#c8c8c8" stroke-width="0.6" />
<text x="152.20" y="241.00" font-size="5.0" text-anchor="start" font-weight="bold" font-style="normal" font-family='"Liberation Serif", serif' fill="#000" >Isotype</text>
<line x1="140.20" y1="244.00" x2="150.50" y2="244.00" stroke="#9c9c9c" stroke-width="0.9" />
<text x="152.20" y="245.70" font-size="5.0" text-anchor="start" font-weight="bold" font-style="normal" font-family='"Liberation Serif", serif' fill="#000" >VitD<tspan font-size="3.2" dy="0.8">3</tspan><tspan dy="-0.8"> 4h</tspan></text>
<line x1="140.20" y1="248.30" x2="150.50" y2="248.30" stroke="#777" stroke-width="0.8" stroke-dasharray="1,0.8"/>
<text x="152.20" y="250.00" font-size="5.0" text-anchor="start" font-weight="bold" font-style="normal" font-family='"Liberation Serif", serif' fill="#000" >VitD<tspan font-size="3.2" dy="0.8">3</tspan><tspan dy="-0.8"> 48h</tspan></text>
<line x1="140.20" y1="252.40" x2="150.50" y2="252.40" stroke="#000" stroke-width="1.1" />
<text x="152.20" y="254.10" font-size="5.0" text-anchor="start" font-weight="bold" font-style="normal" font-family='"Liberation Serif", serif' fill="#000" >VitD<tspan font-size="3.2" dy="0.8">3</tspan><tspan dy="-0.8"> 72h</tspan></text>
<polyline points="17.00,230.30 17.75,228.17 18.50,224.85 19.25,221.93 20.00,209.15 20.75,184.68 21.50,161.51 22.25,177.18 23.00,209.19 23.75,221.86 24.50,226.94 25.25,228.95 26.00,228.58 26.75,229.28 27.50,229.70 28.00,230.30" fill="none" stroke="#a0a0a0" stroke-width="0.8" stroke-linejoin="round" />
<polyline points="19.00,230.30 19.75,229.26 20.50,226.50 21.25,223.53 22.00,213.83 22.75,207.42 23.50,197.85 24.25,187.92 25.00,172.70 25.75,165.51 26.50,170.92 27.25,171.02 28.00,174.53 28.75,190.17 29.50,199.77 30.25,212.48 31.00,216.47 31.75,222.71 32.50,223.04 33.25,225.99 34.00,227.23 34.75,228.54 35.50,228.49 36.25,229.54 37.00,230.17 37.75,230.30 38.50,230.30 39.25,230.27 40.00,230.30" fill="none" stroke="#8a8a8a" stroke-width="0.9" stroke-linejoin="round" />
<polyline points="23.00,230.30 23.75,228.71 24.50,227.90 25.25,227.97 26.00,225.90 26.75,220.45 27.50,219.06 28.25,211.12 29.00,205.33 29.75,201.27 30.50,191.85 31.25,184.65 32.00,179.36 32.75,176.09 33.50,176.59 34.25,188.61 35.00,189.43 35.75,196.14 36.50,200.40 37.25,203.08 38.00,200.39 38.75,204.91 39.50,210.12 40.25,210.32 41.00,212.81 41.75,212.89 42.50,214.00 43.25,215.59 44.00,219.29 44.75,216.40 45.50,221.38 46.25,223.31 47.00,225.68 47.75,222.82 48.50,224.91 49.25,224.87 50.00,224.00 50.75,225.35 51.50,225.49 52.25,224.49 53.00,226.79 53.75,224.35 54.50,227.81 55.25,228.18 56.00,226.12 56.75,225.89 57.50,228.81 58.25,228.85 59.00,227.79 59.75,230.14 60.50,230.30 61.25,227.73 62.00,226.92 62.75,229.59 63.50,229.61 64.25,229.14 65.00,230.13 65.75,229.97 66.50,230.10 67.25,230.30 68.00,230.30" fill="none" stroke="#666" stroke-width="0.9" stroke-linejoin="round" />
<polyline points="22.00,230.30 22.75,229.64 23.50,229.34 24.25,228.07 25.00,227.84 25.75,228.43 26.50,226.57 27.25,228.61 28.00,228.68 28.75,226.84 29.50,226.49 30.25,225.29 31.00,226.17 31.75,224.89 32.50,225.30 33.25,221.97 34.00,219.62 34.75,217.55 35.50,216.88 36.25,218.01 37.00,211.71 37.75,209.87 38.50,211.98 39.25,205.11 40.00,201.72 40.75,205.75 41.50,208.90 42.25,211.33 43.00,212.12 43.75,209.80 44.50,209.31 45.25,209.36 46.00,204.03 46.75,200.95 47.50,197.30 48.25,197.25 49.00,203.78 49.75,201.44 50.50,202.57 51.25,206.79 52.00,197.01 52.75,197.58 53.50,201.65 54.25,196.25 55.00,206.19 55.75,204.40 56.50,209.24 57.25,216.80 58.00,214.10 58.75,218.53 59.50,215.92 60.25,221.22 61.00,218.11 61.75,220.74 62.50,226.35 63.25,223.99 64.00,226.44 64.75,226.24 65.50,228.94 66.25,226.46 67.00,230.30 67.75,229.99 68.50,228.49 69.25,230.30 70.00,229.28 70.75,230.30 71.50,230.30 72.00,230.30" fill="none" stroke="#000" stroke-width="1.3" stroke-linejoin="round" />
<polyline points="18.00,230.30 18.75,229.54 19.50,228.16 20.25,228.29 21.00,227.20 21.75,226.21 22.50,226.08 23.25,225.32 24.00,226.91 24.75,225.41 25.50,226.68 26.25,225.78 27.00,224.16 27.75,224.57 28.50,224.44 29.25,225.20 30.00,225.46 30.75,223.34 31.50,224.48 32.25,225.54 33.00,224.12 33.75,224.66 34.50,224.54 35.25,224.63 36.00,224.66 36.75,223.39 37.50,224.17 38.25,223.35 39.00,224.46 39.75,223.99 40.50,223.65 41.25,225.26 42.00,224.81 42.75,223.61 43.50,224.28 44.25,225.05 45.00,225.66 45.75,225.70 46.50,224.60 47.25,225.66 48.00,224.90 48.75,227.04 49.50,226.11 50.25,226.38 51.00,225.12 51.75,226.68 52.50,227.72 53.25,226.27 54.00,226.66 54.75,227.65 55.50,226.70 56.25,226.19 57.00,226.90 57.75,227.89 58.50,227.72 59.25,228.26 60.00,228.13 60.75,228.52 61.50,228.84 62.25,228.90 63.00,229.17 63.75,229.11 64.50,230.01 65.25,229.12 66.00,229.04 66.75,229.41 67.50,229.58 68.00,230.30" fill="none" stroke="#999" stroke-width="0.7" stroke-linejoin="round" />
<polyline points="99.00,230.30 99.75,227.20 100.50,225.68 101.25,223.28 102.00,206.41 102.75,181.83 103.50,160.08 104.25,179.10 105.00,208.07 105.75,221.77 106.50,227.29 107.25,228.58 108.00,230.30" fill="none" stroke="#a0a0a0" stroke-width="0.8" stroke-linejoin="round" />
<polyline points="100.00,230.30 100.75,230.17 101.50,229.15 102.25,229.00 103.00,227.45 103.75,225.93 104.50,220.29 105.25,214.79 106.00,210.24 106.75,201.96 107.50,197.26 108.25,196.18 109.00,191.48 109.75,180.25 110.50,178.33 111.25,174.37 112.00,174.07 112.75,168.34 113.50,160.08 114.25,156.95 115.00,166.65 115.75,161.89 116.50,161.68 117.25,173.79 118.00,172.35 118.75,185.47 119.50,194.40 120.25,193.71 121.00,209.39 121.75,205.02 122.50,214.17 123.25,219.93 124.00,217.11 124.75,220.40 125.50,222.72 126.25,225.43 127.00,227.37 127.75,225.58 128.50,227.69 129.25,229.92 130.00,228.81 130.75,229.93 131.50,230.30 132.25,230.30 133.00,230.30 133.75,230.30 134.00,230.30" fill="none" stroke="#8a8a8a" stroke-width="0.9" stroke-linejoin="round" />
<polyline points="103.00,230.30 103.75,227.40 104.50,227.51 105.25,223.40 106.00,222.39 106.75,214.27 107.50,212.11 108.25,210.24 109.00,199.68 109.75,200.53 110.50,195.68 111.25,192.66 112.00,178.97 112.75,185.27 113.50,172.00 114.25,171.22 115.00,176.74 115.75,168.69 116.50,169.43 117.25,166.72 118.00,170.33 118.75,168.20 119.50,168.38 120.25,173.40 121.00,181.63 121.75,186.25 122.50,194.72 123.25,196.85 124.00,199.74 124.75,206.75 125.50,214.52 126.25,214.61 127.00,216.38 127.75,220.40 128.50,219.20 129.25,218.81 130.00,219.84 130.75,223.95 131.50,223.20 132.25,227.02 133.00,226.89 133.75,226.80 134.50,229.27 135.25,228.16 136.00,228.43 136.75,229.63 137.50,228.54 138.25,229.08 139.00,229.60 139.75,229.70 140.50,228.18 141.25,229.31 142.00,230.30" fill="none" stroke="#666" stroke-width="0.9" stroke-linejoin="round" />
<polyline points="100.50,230.30 101.25,230.30 102.00,229.57 102.75,229.90 103.50,227.27 104.25,228.95 105.00,228.08 105.75,227.77 106.50,228.18 107.25,227.85 108.00,225.05 108.75,225.20 109.50,227.99 110.25,226.89 111.00,222.01 111.75,225.44 112.50,223.26 113.25,224.37 114.00,220.84 114.75,218.31 115.50,217.73 116.25,216.46 117.00,214.42 117.75,208.55 118.50,209.63 119.25,210.57 120.00,211.97 120.75,212.49 121.50,215.42 122.25,214.54 123.00,212.37 123.75,204.98 124.50,206.66 125.25,210.48 126.00,205.69 126.75,203.65 127.50,201.48 128.25,200.54 129.00,196.09 129.75,194.87 130.50,186.67 131.25,191.73 132.00,197.24 132.75,196.02 133.50,192.98 134.25,195.55 135.00,200.90 135.75,197.67 136.50,205.95 137.25,201.75 138.00,203.34 138.75,212.18 139.50,210.69 140.25,216.37 141.00,218.73 141.75,216.16 142.50,216.22 143.25,220.41 144.00,219.84 144.75,223.82 145.50,225.07 146.25,223.79 147.00,225.49 147.75,227.42 148.50,228.45 149.25,229.08 150.00,230.30 150.75,229.77 151.50,230.30 152.00,230.30" fill="none" stroke="#000" stroke-width="1.3" stroke-linejoin="round" />
<polyline points="100.00,230.30 100.75,230.30 101.50,228.41 102.25,226.92 103.00,226.23 103.75,226.89 104.50,226.35 105.25,226.30 106.00,226.76 106.75,224.81 107.50,224.61 108.25,225.90 109.00,224.12 109.75,225.16 110.50,225.06 111.25,225.04 112.00,223.93 112.75,225.05 113.50,223.65 114.25,224.46 115.00,224.86 115.75,223.00 116.50,224.12 117.25,222.94 118.00,223.81 118.75,223.92 119.50,224.91 120.25,223.14 121.00,223.04 121.75,225.80 122.50,224.62 123.25,223.72 124.00,223.46 124.75,224.85 125.50,224.74 126.25,225.07 127.00,226.47 127.75,226.11 128.50,226.61 129.25,224.66 130.00,225.60 130.75,224.85 131.50,227.25 132.25,226.47 133.00,225.68 133.75,226.16 134.50,226.06 135.25,226.55 136.00,227.49 136.75,226.42 137.50,228.28 138.25,226.57 139.00,228.11 139.75,227.77 140.50,227.76 141.25,227.11 142.00,227.88 142.75,229.09 143.50,228.29 144.25,229.04 145.00,229.03 145.75,229.43 146.50,228.74 147.25,229.57 148.00,229.90 148.75,230.12 149.50,229.91 150.00,230.30" fill="none" stroke="#999" stroke-width="0.7" stroke-linejoin="round" />
<polyline points="17.00,311.10 17.75,307.42 18.50,304.34 19.25,300.79 20.00,285.08 20.75,262.91 21.50,244.62 22.25,249.14 23.00,267.08 23.75,283.26 24.50,297.82 25.25,304.40 26.00,309.39 26.75,310.01 27.00,311.10" fill="none" stroke="#a0a0a0" stroke-width="0.8" stroke-linejoin="round" />
<polyline points="19.00,311.10 19.75,306.20 20.50,306.29 21.25,305.10 22.00,293.23 22.75,285.70 23.50,275.63 24.25,263.26 25.00,255.75 25.75,250.69 26.50,242.50 27.25,257.55 28.00,264.64 28.75,266.69 29.50,282.85 30.25,292.61 31.00,301.08 31.75,304.45 32.50,308.82 33.25,308.96 34.00,308.37 34.75,311.10 35.00,311.10" fill="none" stroke="#8a8a8a" stroke-width="0.9" stroke-linejoin="round" />
<polyline points="24.00,311.10 24.75,310.29 25.50,309.53 26.25,309.20 27.00,305.64 27.75,300.06 28.50,298.27 29.25,289.89 30.00,279.23 30.75,275.47 31.50,270.43 32.25,269.74 33.00,266.02 33.75,273.71 34.50,270.13 35.25,267.36 36.00,267.33 36.75,272.19 37.50,272.86 38.25,273.66 39.00,276.79 39.75,281.46 40.50,278.17 41.25,285.73 42.00,290.05 42.75,292.52 43.50,290.64 44.25,298.27 45.00,294.25 45.75,301.09 46.50,301.56 47.25,303.90 48.00,303.34 48.75,305.37 49.50,301.00 50.25,303.62 51.00,304.85 51.75,301.65 52.50,303.52 53.25,304.23 54.00,304.92 54.75,307.08 55.50,302.32 56.25,307.63 57.00,307.42 57.75,306.65 58.50,307.03 59.25,308.94 60.00,306.38 60.75,309.73 61.50,308.45 62.25,309.54 63.00,307.04 63.75,309.52 64.50,310.36 65.25,308.13 66.00,310.71 66.75,309.40 67.50,308.21 68.25,309.15 69.00,311.10 69.75,309.48 70.50,309.05 71.25,309.84 72.00,311.10" fill="none" stroke="#666" stroke-width="0.9" stroke-linejoin="round" />
<polyline points="27.00,311.10 27.75,311.10 28.50,311.10 29.25,308.60 30.00,308.55 30.75,306.17 31.50,310.39 32.25,307.55 33.00,308.05 33.75,306.83 34.50,306.20 35.25,304.90 36.00,300.70 36.75,298.65 37.50,300.66 38.25,300.77 39.00,300.94 39.75,295.81 40.50,300.01 41.25,299.49 42.00,298.53 42.75,304.66 43.50,296.94 44.25,302.06 45.00,300.00 45.75,305.30 46.50,301.33 47.25,301.89 48.00,301.99 48.75,302.74 49.50,298.21 50.25,298.14 51.00,297.94 51.75,292.43 52.50,289.59 53.25,289.66 54.00,283.39 54.75,280.19 55.50,287.00 56.25,282.96 57.00,283.96 57.75,277.30 58.50,282.04 59.25,274.86 60.00,287.53 60.75,277.88 61.50,285.03 62.25,285.07 63.00,285.17 63.75,291.42 64.50,288.10 65.25,294.96 66.00,294.51 66.75,297.95 67.50,297.72 68.25,302.99 69.00,296.73 69.75,297.51 70.50,301.74 71.25,301.12 72.00,302.86 72.75,303.97 73.50,304.47 74.25,304.66 75.00,307.80 75.75,306.95 76.50,306.33 77.25,306.34 78.00,306.66 78.75,308.20 79.50,306.72 80.25,311.10 81.00,309.49 81.75,309.85 82.50,310.98 83.25,310.50 84.00,311.10" fill="none" stroke="#000" stroke-width="1.3" stroke-linejoin="round" />
<polyline points="18.00,311.10 18.75,310.49 19.50,310.00 20.25,307.82 21.00,306.98 21.75,307.18 22.50,307.71 23.25,306.50 24.00,306.07 24.75,307.33 25.50,306.23 26.25,306.00 27.00,305.76 27.75,305.88 28.50,305.74 29.25,304.10 30.00,305.64 30.75,305.77 31.50,305.52 32.25,304.31 33.00,304.85 33.75,305.47 34.50,306.44 35.25,303.70 36.00,305.35 36.75,305.61 37.50,304.61 38.25,305.55 39.00,304.43 39.75,304.82 40.50,305.57 41.25,305.54 42.00,304.90 42.75,304.78 43.50,304.91 44.25,305.58 45.00,304.73 45.75,305.22 46.50,306.28 47.25,305.75 48.00,305.44 48.75,306.11 49.50,306.48 50.25,306.95 51.00,306.75 51.75,307.34 52.50,305.36 53.25,306.15 54.00,307.81 54.75,307.55 55.50,307.05 56.25,307.81 57.00,307.99 57.75,307.74 58.50,307.89 59.25,307.43 60.00,307.47 60.75,308.22 61.50,308.02 62.25,309.28 63.00,308.78 63.75,309.10 64.50,309.85 65.25,310.33 66.00,310.13 66.75,310.46 67.50,310.47 68.00,311.10" fill="none" stroke="#999" stroke-width="0.7" stroke-linejoin="round" />
<polyline points="99.00,311.10 99.75,307.34 100.50,303.95 101.25,302.31 102.00,283.36 102.75,263.81 103.50,244.90 104.25,256.58 105.00,266.78 105.75,277.93 106.50,296.19 107.25,302.21 108.00,311.10" fill="none" stroke="#a0a0a0" stroke-width="0.8" stroke-linejoin="round" />
<polyline points="100.00,311.10 100.75,309.37 101.50,308.59 102.25,307.55 103.00,304.45 103.75,302.91 104.50,302.29 105.25,299.67 106.00,295.15 106.75,291.58 107.50,292.55 108.25,287.28 109.00,280.64 109.75,279.73 110.50,279.25 111.25,269.58 112.00,267.93 112.75,265.94 113.50,253.26 114.25,254.83 115.00,252.24 115.75,255.96 116.50,266.48 117.25,270.21 118.00,274.81 118.75,279.44 119.50,283.27 120.25,289.10 121.00,288.82 121.75,291.17 122.50,293.72 123.25,301.40 124.00,300.97 124.75,299.91 125.50,304.54 126.25,304.90 127.00,307.90 127.75,307.28 128.50,310.04 129.25,310.21 130.00,311.10" fill="none" stroke="#8a8a8a" stroke-width="0.9" stroke-linejoin="round" />
<polyline points="103.00,311.10 103.75,309.38 104.50,308.84 105.25,306.61 106.00,305.09 106.75,304.42 107.50,302.02 108.25,298.06 109.00,293.47 109.75,295.43 110.50,291.05 111.25,287.98 112.00,287.86 112.75,281.90 113.50,277.94 114.25,278.74 115.00,280.07 115.75,271.71 116.50,276.76 117.25,267.37 118.00,266.21 118.75,272.16 119.50,273.03 120.25,271.12 121.00,264.81 121.75,278.06 122.50,280.92 123.25,274.04 124.00,284.01 124.75,284.92 125.50,285.56 126.25,290.58 127.00,293.48 127.75,293.55 128.50,295.87 129.25,294.93 130.00,301.69 130.75,299.48 131.50,301.22 132.25,301.03 133.00,306.69 133.75,304.75 134.50,305.11 135.25,306.62 136.00,309.24 136.75,309.08 137.50,306.61 138.25,305.99 139.00,307.87 139.75,310.13 140.50,309.17 141.25,306.55 142.00,310.50 142.75,309.31 143.50,310.08 144.25,308.74 145.00,307.84 145.75,309.23 146.50,311.03 147.25,310.78 148.00,310.59 148.75,310.67 149.50,309.76 150.00,311.10" fill="none" stroke="#666" stroke-width="0.9" stroke-linejoin="round" />
<polyline points="100.40,311.10 101.15,311.10 101.90,308.66 102.65,310.92 103.40,309.81 104.15,309.58 104.90,311.10 105.65,309.89 106.40,307.29 107.15,309.15 107.90,310.05 108.65,307.54 109.40,307.51 110.15,308.28 110.90,307.85 111.65,305.96 112.40,309.46 113.15,308.34 113.90,308.53 114.65,307.67 115.40,305.36 116.15,306.76 116.90,306.59 117.65,306.21 118.40,309.23 119.15,306.60 119.90,307.55 120.65,305.35 121.40,305.77 122.15,303.20 122.90,307.40 123.65,308.99 124.40,305.46 125.15,306.83 125.90,303.06 126.65,304.79 127.40,304.82 128.15,306.50 128.90,304.72 129.65,299.11 130.40,300.33 131.15,301.91 131.90,298.60 132.65,297.11 133.40,293.66 134.15,290.23 134.90,289.84 135.65,290.58 136.40,289.70 137.15,289.32 137.90,286.57 138.65,290.31 139.40,282.53 140.15,283.03 140.90,290.07 141.65,289.59 142.40,291.15 143.15,296.47 143.90,296.21 144.65,296.71 145.40,297.61 146.15,295.80 146.90,304.41 147.65,298.35 148.40,300.88 149.15,300.92 149.90,305.19 150.65,300.16 151.40,304.30 152.15,308.04 152.90,307.64 153.65,305.33 154.40,304.77 155.15,305.35 155.90,305.76 156.65,304.86 157.40,305.06 158.15,308.00 158.90,308.66 159.65,307.48 160.40,307.33 161.15,308.80 161.90,310.03 162.65,310.96 163.40,308.90 164.15,310.93 164.90,311.10 165.65,311.10 166.40,311.10 167.00,311.10" fill="none" stroke="#000" stroke-width="1.3" stroke-linejoin="round" />
<polyline points="100.00,311.10 100.75,309.65 101.50,309.68 102.25,308.95 103.00,307.73 103.75,307.22 104.50,306.33 105.25,306.47 106.00,306.20 106.75,306.21 107.50,307.08 108.25,306.21 109.00,305.67 109.75,305.99 110.50,305.32 111.25,305.25 112.00,306.09 112.75,304.15 113.50,306.61 114.25,305.38 115.00,304.70 115.75,304.80 116.50,305.09 117.25,304.70 118.00,305.66 118.75,304.64 119.50,304.79 120.25,305.41 121.00,305.43 121.75,304.82 122.50,306.04 123.25,306.12 124.00,304.86 124.75,305.74 125.50,304.92 126.25,305.75 127.00,306.62 127.75,304.83 128.50,305.65 129.25,306.78 130.00,305.36 130.75,305.08 131.50,305.32 132.25,305.89 133.00,307.07 133.75,305.29 134.50,306.92 135.25,307.04 136.00,307.23 136.75,306.49 137.50,307.01 138.25,307.37 139.00,306.75 139.75,307.64 140.50,306.57 141.25,308.10 142.00,307.89 142.75,309.12 143.50,309.17 144.25,308.45 145.00,309.60 145.75,309.91 146.50,309.86 147.25,310.71 148.00,309.67 148.75,310.26 149.50,310.83 150.00,311.10" fill="none" stroke="#999" stroke-width="0.7" stroke-linejoin="round" />
</svg></body></html>
